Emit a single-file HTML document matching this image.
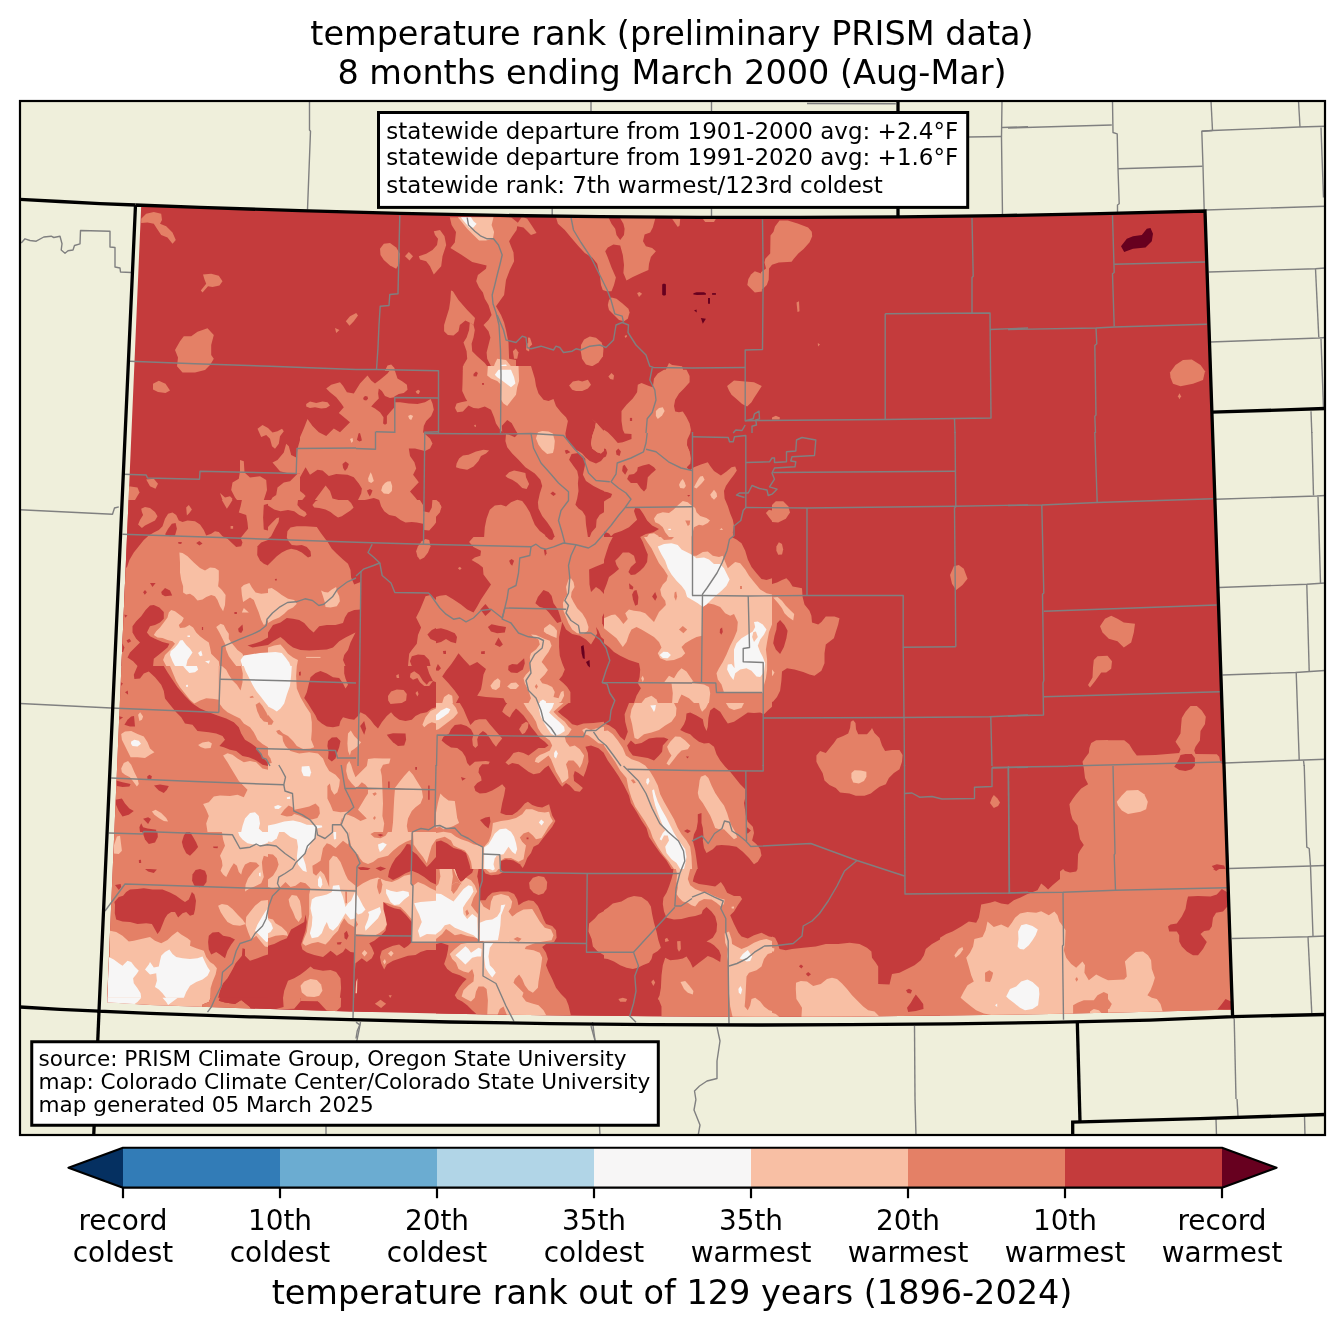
<!DOCTYPE html>
<html lang="en"><head><meta charset="utf-8"><title>temperature rank</title>
<style>html,body{margin:0;padding:0;background:#fff}svg{display:block;will-change:transform}text{font-family:"DejaVu Sans","Liberation Sans",sans-serif;fill:#000}</style></head><body>
<svg width="1344" height="1332" viewBox="0 0 1344 1332">
<rect width="1344" height="1332" fill="#fff"/>
<defs><clipPath id="ax"><rect x="20" y="101" width="1305" height="1034"/></clipPath>
<clipPath id="co"><polygon points="141.2,205.7 200,207.9 300,211.2 400,213.9 500,215.9 600,217.2 700,217.9 800,217.9 900,217.3 1000,216.1 1100,214.2 1206,211.5 1233.4,1009.5 1150,1011.8 1050,1014 950,1015.5 850,1016.4 757,1016.7 650,1016.3 550,1015.3 450,1013.7 350,1011.4 250,1008.5 150,1005 107,1002.3"/></clipPath>
</defs>
<rect x="20" y="101" width="1305" height="1034" fill="#efefdb"/>
<g clip-path="url(#ax)">
<polygon points="141.2,205.7 200,207.9 300,211.2 400,213.9 500,215.9 600,217.2 700,217.9 800,217.9 900,217.3 1000,216.1 1100,214.2 1206,211.5 1233.4,1009.5 1150,1011.8 1050,1014 950,1015.5 850,1016.4 757,1016.7 650,1016.3 550,1015.3 450,1013.7 350,1011.4 250,1008.5 150,1005 107,1002.3" fill="#c43b3c"/>
<g clip-path="url(#co)">
<g fill="#e48066">
<polygon points="141.2,218.8 146.2,213.8 153.8,212 161.2,213.8 162,220 160,223.8 166.2,226.2 172.5,232.5 175.8,240 172.5,243.8 167.5,237.5 161.2,235 157,228.8 153.8,223.8 147.5,222.5 141.2,223"/>
</g>
<g fill="#e48066">
<polygon points="203,274.5 211.2,273.8 218.8,275.8 222.5,281.2 219.5,285.5 212.5,287 208,286.2 202.5,292.5 200.8,290.5 206.2,283.8 204.5,279.5"/>
</g>
<g fill="#e48066">
<polygon points="380,248.8 383.8,243.8 390,243 396.2,247.5 400,253.8 399.2,263.8 396.2,268.8 390,265.5 383.8,260 380.5,255"/>
</g>
<g fill="#e48066">
<polygon points="405,256.2 408.8,252 413,256.2 409.5,260.5"/>
</g>
<g fill="#e48066">
<polygon points="345.8,321.2 350,316.2 356.2,313 358,315.5 353.8,321.2 349.5,325.8"/>
</g>
<g fill="#e48066">
<polygon points="335,328 339.5,330 336.2,333"/>
</g>
<g fill="#e48066">
<polygon points="175,350 180,341.2 183.8,336.2 191.2,336.2 197.5,331.8 207.5,328.2 213.8,335 211.2,345 211.2,355 213.8,358.8 210,365 205,370 195,372.5 182.5,372.5 177,366.2 178,357.5"/>
</g>
<g fill="#e48066">
<polygon points="153,383.8 158.8,380.8 165.5,383.8 170,390.5 165.5,393 158,392 153,389.5"/>
</g>
<g fill="#e48066">
<polygon points="306.2,403.8 312.5,402 320,402.5 326.2,401.5 330,404.5 326.2,408 320,408.8 312.5,407 307.5,407.5"/>
</g>
<g fill="#e48066">
<polygon points="257.5,428.8 262.5,425 268,428 272.5,432.5 277.5,431.2 282,428.8 283.8,431.2 280,436.2 278.8,443.8 275,448.8 272,446.2 270,438.8 266.2,435 261.2,437"/>
</g>
<g fill="#e48066">
<polygon points="327,388 333.8,384.5 340.5,382 346.2,390 347.5,394.5 353.8,394.5 360,382.5 367.5,375 372.5,380.5 376.2,378.8 380,372.5 383.8,373 387.5,365.5 391.2,364.5 394.5,368 395,375 398.8,380 406.2,383.8 407.5,390 403.8,393.8 396.2,398 407.5,401.2 418.8,403 427.5,400 436,401.2 436,533 422.5,533 420,522.5 415,512.5 400,518.8 387.5,516.2 381.2,507.5 377.5,496.2 365,498.8 357.5,500 360,490 355,482.5 346.2,475 335,473.8 325,477.5 317.5,472.5 307.5,467.5 303.8,473.8 297.5,473.8 290,473.8 280,471.2 272.5,462.5 277.5,460 283.8,452.5 286.2,443.8 288.8,446.2 291.2,455 296.2,457.5 297.5,448.8 300,440 303.8,432.5 306.2,420 312.5,426.2 320,431.2 327.5,435 333.8,430 341.2,431.2 348.8,422.5 343.8,417.5 340,413.8 343.8,405 340,400 335,396.2 331.2,392.5"/>
</g>
<g fill="#c43b3c">
<polygon points="380,387 383.8,392.5 390,397.5 394.5,398.8 394.5,415 388.8,417 387,423.8 383.8,423.8 382.5,416.2 377.5,411.2 371.2,407 374.5,400 377,393.8"/>
</g>
<g fill="#e48066">
<polygon points="146.2,479.5 153.8,478.8 158,483.8 155.5,488.8 150,486.2"/>
</g>
<g fill="#e48066">
<polygon points="128.8,486.2 137.5,487.5 139.5,492.5 135,500 128.8,500"/>
</g>
<g fill="#e48066">
<polygon points="220,493 225,497.5 230,496.2 232.5,498.8 227.5,508.8 223.8,503.8"/>
</g>
<g fill="#e48066">
<polygon points="240,460 243.8,461.2 244.5,472.5 250,477.5 260,476.2 266.2,480 267,490 263.8,500 265,512.5 262.5,522.5 260,533 247.5,533 246.2,522.5 242.5,512.5 240,503.8 235,497.5 231.2,490 232.5,482.5 238.8,478.8 240,471.2"/>
</g>
<g fill="#e48066">
<polygon points="275,520 280,517 275,533 270,533"/>
</g>
<g fill="#e48066">
<polygon points="290,525 307.5,525 312.5,533 285,533"/>
</g>
<g fill="#e48066">
<polygon points="297.5,473.8 303.8,473.8 306.2,480 302.5,487.5 305,495 300,500 303.8,508.8 300,517.5 292.5,511.2 285,510 277.5,510 268.8,503.8 272.5,497.5 276.2,495 277.5,487.5 283.8,482.5 290,481.2 293.8,477.5"/>
</g>
<g fill="#e48066">
<polygon points="325,486.2 331.2,497.5 340,500 352.5,503.8 346.2,511.2 335,517.5 325,512.5 316.2,508.8 312.5,503.8 317.5,497.5"/>
</g>
<g fill="#c43b3c">
<polygon points="300,371 436,371 436,537 300,537"/>
</g>
<g fill="#e48066">
<polygon points="300,437.2 303.8,428.5 307.5,419.1 312.5,426 318.8,432.2 326.2,436 333.8,428.5 340,432.2 350,422.2 342.5,416 338.8,412.9 343.8,407.2 341.2,403.5 336.2,397.2 330,392.2 326.2,388.5 331.2,384.8 340,382.2 343.1,386 346.9,392.2 353.8,393.5 360,383.5 367.5,375.4 371.2,380.4 375,383.5 380,379.8 387.5,373.5 389.4,371 395,371 397.5,378.5 402.5,381.6 406.9,384.8 407.5,389.8 403.8,392.9 398.8,394.1 394.4,396.6 395,402.2 400,402.2 408.8,403.5 417.5,404.1 425,402.2 430.6,399.1 432.5,403.5 433.8,409.8 431.2,416 426.2,421 423.8,426 423.1,432.2 430,438.5 432.5,443.5 430,448.5 425,451 420,449.8 415,448.5 408.8,448.5 410,456 414.4,462.2 416.2,468.5 413.1,474.8 418.8,482.2 410,491.6 415,497.2 420,503.5 423.8,508.5 425,512.2 430,511 431.9,501 436.2,500.4 441.2,506 440,512.2 435.6,517.2 435.6,524.8 431.2,529.8 425,531 423.1,527.2 417.5,523.5 408.8,522.2 400,518.5 392.5,517.2 385,513.5 381.2,508.5 378.8,499.8 373.8,497.9 366.2,499.8 357.5,501 361.2,493.5 361.9,488.5 358.8,483.5 353.8,477.2 347.5,474.8 336.2,474.1 328.8,476 322.5,470.4 317.5,469.8 310,474.8 305.6,467.2 300,477.2"/>
</g>
<g fill="#c43b3c">
<polygon points="363.1,397.9 365,396 367.5,396.6 368.1,398.8 366.2,400.6 363.8,400"/>
</g>
<g fill="#c43b3c">
<polygon points="378.8,388.5 381.9,391 385,396 390,397.9 394.4,397.2 394.4,407.2 390,412.2 386.9,416 386.9,423.5 385,424.8 383.1,423.5 383.5,417.2 380,412.2 375,408.5 371.2,406.6 375,402.2 378.8,398.5 378.1,393.5"/>
</g>
<g fill="#c43b3c">
<polygon points="358.5,433.5 360,432.9 361.2,437.2 361.9,440.4 359.4,441.6 356.9,439.8 357.8,436.6"/>
</g>
<g fill="#c43b3c">
<polygon points="342.5,464.1 345.6,461.6 348.8,464.1 347.5,467.9 345,471 343.1,467.9"/>
</g>
<g fill="#c43b3c">
<polygon points="366.9,490.4 370,489.1 372.5,490.4 371.2,494.1 369.8,496.6 368.1,493.5"/>
</g>
<g fill="#e48066">
<polygon points="306.2,404.1 310,401.6 316.2,402.9 322.5,401.6 327.5,402.2 330,405.4 326.2,407.9 321.2,408.5 315,407.2 310,407.9 306.2,406.6"/>
</g>
<g fill="#e48066">
<polygon points="415.6,391.6 418.1,389.8 420,391 418.8,394.1 416.9,393.5"/>
</g>
<g fill="#e48066">
<polygon points="325.6,485.4 330,491 332.5,498.5 342.5,501 350,504.8 353.8,507.2 348.8,511 343.8,516.6 337.5,517.9 331.2,513.5 323.8,511 315,508.5 311.9,504.8 315,499.8 318.8,494.8 322.5,489.8"/>
</g>
<g fill="#e48066">
<polygon points="300,491 303.8,494.1 305.6,496 302.5,499.8 300,501"/>
</g>
<g fill="#e48066">
<polygon points="300,508.5 305,512.2 306.2,514.8 302.5,517.2 300,517.9"/>
</g>
<g fill="#e48066">
<polygon points="300,528.5 306.2,526 313.8,525.4 317.5,529.1 320.6,533.5 322.5,537 300,537"/>
</g>
<g fill="#f8bfa4">
<polygon points="408.1,416 410.6,414.8 413.1,416 411.2,420 409.4,419.1"/>
</g>
<g fill="#f8bfa4">
<polygon points="350,439.1 352.5,437.9 353.1,441 351.5,442.9"/>
</g>
<g fill="#f8bfa4">
<polygon points="370.6,472.2 371.9,474.8 373.8,481 371.2,482.9 368.5,481.6 368.1,478.5"/>
</g>
<g fill="#f8bfa4">
<polygon points="387.5,481.6 390.6,481.2 392.2,486 391.9,491 388.8,494.1 383.8,493.5 381.2,490.4 382.5,486 385,482.9"/>
</g>
<g fill="#e48066">
<polygon points="433.8,231.2 440,230 444.5,236.2 446.2,245 442.5,256.2 441.2,266.2 433.8,274.5 430,266.2 426.2,261.2 420,259.5 418.8,256.2 426.2,253.8 432.5,250 437,245 438,238.8 435,235"/>
</g>
<g fill="#e48066">
<polygon points="451,290.6 452.9,291.2 458.5,300 467.2,310 475,318.1 473.5,325 470.4,323.1 465.4,320.6 459.8,325 458.5,331.2 453.5,335.6 447.9,335 444.1,331.2 444.1,325 446,318.8 449.1,308.8 450.4,300"/>
</g>
<g fill="#e48066">
<polygon points="469.8,322.5 473.5,325 474.8,330 473.5,337.5 471.6,343.8 472.2,351.2 477.2,356.2 484.8,363.1 487.2,366.2 486,371 462.9,371 463.5,365 467.2,358.8 466.6,351.2 463.5,342.5 466.6,337.5 469.1,330"/>
</g>
<g fill="#e48066">
<polygon points="449.8,217.2 451.6,225 456,231.9 454.8,242.5 450.4,248.1 461,254.4 472.2,261.9 486.6,265.6 486,268.8 477.9,275 476.2,281.2 479.1,287.5 482.9,292.5 484.8,298.8 488.5,305 491.6,315 488.5,320 483.5,325 488.5,331.2 490.4,337.5 488.5,345 486.6,352.5 487.2,358.8 491,366.2 494.8,371 516,371 516,360 509.1,358.8 508.5,342.5 506,330 504.1,322.5 501,315 496,306.2 504.1,295 506,280 509.8,270 514.1,261.2 513.5,252.5 511,246.2 509.1,241.2 512.2,236.2 516.6,230 517.2,226.2 523.5,227.5 531,235 536.6,233.1 532.2,226.2 527.2,218.8 523.5,217.2"/>
</g>
<g fill="#c43b3c">
<polygon points="511,217.2 521.6,217.2 517.9,222.8"/>
</g>
<g fill="#e48066">
<polygon points="527.9,337.5 530,337.8 532.2,344.4 529.5,346.9 529.1,351.5 526.2,350 526.2,345 528.2,342.5"/>
</g>
<g fill="#e48066">
<polygon points="512.9,351.2 515.8,348.5 518.5,352.5 517.2,358.8 514.1,358.8"/>
</g>
<g fill="#e48066">
<polygon points="581,345 584.1,339.4 589.8,336.5 596,337.8 601.6,342.5 603.5,348.8 602.9,356.2 598.5,362.5 592.2,366.2 586,364.4 582,358.8 580.8,351.2"/>
</g>
<g fill="#f8bfa4">
<polygon points="457.9,217.2 493.5,217.2 491.6,225 494.1,231.9 492.9,238.8 486,240.6 479.1,240.6 473.5,235 467.2,228.8 462.2,222.5"/>
</g>
<g fill="#f7f6f6">
<polygon points="461,217.2 471,217.2 473.5,221.2 476.6,223.8 473.5,227.5 469.8,228.1 466,223.8 462.9,220"/>
</g>
<g fill="#f8bfa4">
<polygon points="497.2,358.8 506,360 511,366.2 513.5,371 492.2,371 494.8,363.8"/>
</g>
<g fill="#f7f6f6">
<polygon points="501,365 506,364.4 509.8,371 499.1,371"/>
</g>
<g fill="#e48066">
<polygon points="556,217.2 557.9,223.8 564.8,230 571,237.5 578.5,246.2 584.8,253.1 592.2,257.5 597.2,263.8 599.8,275 601,285 602.8,290 606.5,291.2 611.5,291.2 614,285 615.9,277.5 611.5,267.5 607.8,257.5 605.2,251.2 607.8,247.5 613.4,244.4 620.2,245.6 622.8,255 624,265 623.4,273.1 626.5,280.6 632.8,276.9 641.5,273.1 648.4,270 649,263.8 650.9,256.9 655.9,251.2 652.1,248.1 645.9,246.2 643,241.2 644.6,234.4 650.2,232.5 652.8,227.5 655.2,218.8 655.2,217.2"/>
</g>
<g fill="#c43b3c">
<polygon points="608.4,217.2 619.6,217.2 623.4,223.8 624.6,228.8 624,235 620.2,240 616.5,235 615.2,228.8 611.5,223.8"/>
</g>
<g fill="#e48066">
<polygon points="672.1,218.8 680.2,218.8 679.6,225.6 677.8,226.9"/>
</g>
<g fill="#e48066">
<polygon points="702.8,218.8 715.9,218.8 714,221.9 705.2,221.9"/>
</g>
<g fill="#e48066">
<polygon points="611.5,297.5 616.5,298.8 622.8,303.8 628.4,308.8 629.6,312.5 627.8,318.8 624,321.2 619,320 614,315 609,310 607.8,305 609,300"/>
</g>
<g fill="#e48066">
<polygon points="637.1,293.1 639.6,291.9 642.1,293.8 639,296.9"/>
</g>
<g fill="#e48066">
<polygon points="624.6,336 626.5,335 627.1,336.2 625.5,338.1"/>
</g>
<g fill="#e48066">
<polygon points="779.5,220.5 787.8,220.5 797.6,223.5 808.1,227.6 811.8,231.8 812.2,236.3 809.6,242.3 803.6,249 798.3,253.5 793.8,258.8 791.6,261.8 778.8,262.6 772,264.8 769,268.6 768.7,279.8 766.8,285.1 763,288.8 761,289.5 761,272.3 766,268.6 764.5,262.6 765.3,258.8 770.2,253.5 770.5,235.5 773.5,231.8 775,226.5"/>
</g>
<g fill="#e48066">
<polygon points="754.8,271.2 761.9,273.8 761.9,291.5 754.8,292.6 747.3,285.1 748.4,279.1 751,274.6"/>
</g>
<g fill="#e48066">
<polygon points="669,363.1 672.1,365 682.1,366.2 683.4,371 665.2,371 667.1,366.9"/>
</g>
<g fill="#67001f">
<polygon points="662.2,284.5 663.2,283.8 665,283.8 665.9,284.5 665.9,294.8 665,295.6 663.2,295.6 662.2,294.8"/>
</g>
<g fill="#67001f">
<polygon points="693.4,293.2 696.5,292.2 704,292.2 705.9,293.2 705.9,294.8 697.1,295 693.4,294.5"/>
</g>
<g fill="#67001f">
<polygon points="712.1,293.1 715.9,293.1 715.9,294.8 712.1,294.8"/>
</g>
<g fill="#67001f">
<polygon points="708,298.1 710,298.1 710,303.8 708,303.8"/>
</g>
<g fill="#67001f">
<polygon points="694,310.6 696.5,309.4 696.8,312.5"/>
</g>
<g fill="#67001f">
<polygon points="700.9,318.1 705.9,318.8 702.8,323.8"/>
</g>
<g fill="#e48066">
<polygon points="462.9,366 462.5,383.5 462.2,391 465.4,397.9 467.2,401 461,402.2 456.6,403.5 455,407.9 457.2,412.2 462.9,411.6 468.5,405.4 473.5,407.9 478.5,408.5 484.8,406.6 491,409.8 494.1,417.2 496,423.5 498.5,427.2 501,431 506,434.1 505.4,441 507.2,447.2 512.2,453.5 518.5,459.8 525.4,467.2 534.8,473.5 540.4,479.8 542.2,486 539.8,493.5 537.9,502.2 538.5,508.5 542.2,516 547.2,522.2 552.2,529.8 554.8,537 604,537 604,366"/>
</g>
<g fill="#c43b3c">
<polygon points="531,366 534.8,378.5 536,386 538.5,393.5 543.5,399.8 548.5,401 553.5,399.1 556,406 561,412.2 566,417.2 567.9,421 566.6,427.2 565.4,433.5 566,438.5 570.4,444.8 574.8,449.8 578.5,451 582.2,453.5 585.4,457.2 589.8,461 596,463.5 601,461 604,457.2 604,449.8 602.2,451 601,453.5 597.2,452.2 592.2,448.5 591,443.5 592.2,436 594.8,428.5 596,422.2 592.9,419.1 593.8,412.9 592,409.1 591,412.2 591.6,418.5 604,431 604,366"/>
</g>
<g fill="#c43b3c">
<polygon points="571.6,454.1 578.5,452.9 582.9,456 585.4,459.1 584.8,466 582.9,474.8 586,481 593.5,486 601,489.8 604,491 604,512.2 599.8,514.8 596.6,519.8 596,527.2 591.6,532.2 589.8,537 587.9,537 587.2,532.2 586,524.8 585.4,516 582.2,511 578.5,508.5 575.4,504.8 577.2,498.5 578.5,491 577.9,483.5 578.5,477.2 577.2,471 573.5,466 569.1,459.8"/>
</g>
<g fill="#e48066">
<polygon points="591.6,419.1 597.2,423.5 602.2,429.8 604,431 604,451 601,453.5 597.2,452.2 592.2,448.5 591,443.5 592.2,436 594.8,428.5 596,422.2"/>
</g>
<g fill="#c43b3c">
<polygon points="501.9,425.8 507.2,420 511.6,422.9 516,431 517.9,434.1 514.8,437.2 511,435.4 506.6,434.1 502.2,432.2"/>
</g>
<g fill="#c43b3c">
<polygon points="473.5,374.1 476,371.6 477.9,372.9 476.6,376.6 473.5,376.2"/>
</g>
<g fill="#c43b3c">
<polygon points="482,383.1 483.9,382.9 484.1,384.8 482.2,385"/>
</g>
<g fill="#c43b3c">
<polygon points="550.4,493.5 552.9,491.6 556,494.1 553.5,496"/>
</g>
<g fill="#c43b3c">
<polygon points="564.8,450.4 567.2,449.8 570.4,452.2 566,454.1"/>
</g>
<g fill="#e48066">
<polygon points="484.1,537 484.8,527.2 486.6,518.5 489.8,509.8 494.8,505.4 501,504.8 506,506.6 511,502.2 517.2,499.8 522.2,501 526,506 529.8,512.2 532.2,518.5 534.8,524.8 539.8,531 544.8,534.8 546,537"/>
</g>
<g fill="#e48066">
<polygon points="456.6,463.5 459.1,458.5 462.9,455.4 468.5,454.8 476,451.6 483.5,449.8 489.1,450.4 486,453.5 481,456 478.5,461 473.5,466.6 467.2,469.8 459.8,468.5 456,467.2"/>
</g>
<g fill="#e48066">
<polygon points="505.4,476 509.1,472.2 514.1,470.4 519.1,471.6 525.4,472.9 526,477.2 529.1,484.1 526.6,489.1 522.2,487.9 517.2,482.9 512.2,479.8 507.9,477.9"/>
</g>
<g fill="#e48066">
<polygon points="436,499.8 439.1,502.2 441.6,507.2 439.1,512.2 436,514.8"/>
</g>
<g fill="#e48066">
<polygon points="569.1,385.4 572.9,381.6 578.5,380.4 582.2,381.6 587.9,379.8 591,384.8 587.9,388.5 582.2,391 576,391 572.2,389.8"/>
</g>
<g fill="#e48066">
<polygon points="474.1,425 475.8,424.8 476,427 474.5,426.6"/>
</g>
<g fill="#f8bfa4">
<polygon points="487.9,366 518.5,366 519.1,381 517.2,387.2 516,394.8 511,401 507.2,406 503.5,403.5 501,399.8 501,384.8 497.2,381 491,378.5 487.2,375.4"/>
</g>
<g fill="#f7f6f6">
<polygon points="494.8,374.8 498.5,369.8 511,369.8 514.1,377.2 515.4,383.5 511,387.2 506,383.5 501,379.8 497.2,377.2"/>
</g>
<g fill="#f8bfa4">
<polygon points="537.9,432.2 542.2,431 548.5,431.6 552.9,433.5 554.8,441 554.1,448.5 552.9,452.9 547.2,454.1 542.2,449.8 538.5,444.8 536,438.5"/>
</g>
<g fill="#e48066">
<polygon points="604,429.8 607.8,432.2 612.8,437.2 617.8,442.9 622.8,442.2 631.5,439.1 631.5,434.1 624.6,433.5 622.8,429.8 621.5,421 621.5,411 626.5,404.8 632.8,398.5 637.1,392.2 637.8,384.8 641.5,382.9 649,386 652.8,387.2 654,378.5 657.8,373.5 664,369.8 686.5,369.8 689.6,376 689.6,382.2 684,388.5 679,393.5 675.2,399.8 674,406 675.2,411.6 679,412.2 682.8,411.6 686.5,417.2 689.6,423.5 690.9,429.8 690.2,433.5 687.8,438.5 687.1,444.8 689.6,451 690.9,458.5 690.2,464.1 687.1,467.2 690.2,469.8 694,467.2 700.2,464.8 707.8,462.2 710.2,466 714,471 720.9,475.4 726.5,471.6 731.5,467.2 735.2,466.6 736.8,470.4 734,474.8 730.2,479.8 725.9,486 724,491 724.6,498.5 727.8,506 730.2,513.5 732.8,519.8 734,526 732.8,532.2 733.4,537 604,537"/>
</g>
<g fill="#c43b3c">
<polygon points="604,448.5 605.9,449.1 607.1,452.9 605.9,456.6 604,457.5"/>
</g>
<g fill="#c43b3c">
<polygon points="615.9,451 618.4,448.5 620.9,451.6 619.6,456 616.5,454.8"/>
</g>
<g fill="#c43b3c">
<polygon points="629.9,417.9 632.1,417.9 632.1,421 629.9,421"/>
</g>
<g fill="#c43b3c">
<polygon points="622.8,466 624.6,464.8 627.8,469.8 625.2,474.8 622.1,471"/>
</g>
<g fill="#c43b3c">
<polygon points="637.8,467.2 642.8,465.4 649,464.1 654,467.2 655.9,469.8 651.5,473.5 647.8,477.2 647.1,483.5 646.5,488.5 644,491.6 640.9,488.5 637.1,482.9 630.9,482.9 627.1,479.1 629,474.8 634,474.1 637.1,471"/>
</g>
<g fill="#c43b3c">
<polygon points="604,491.6 607.8,492.2 612.1,494.1 610.9,497.2 606.5,499.8 604,501.6"/>
</g>
<g fill="#c43b3c">
<polygon points="635.2,507.9 639.6,508.5 643.4,514.1 647.1,520.4 652.1,525.4 659,529.1 653.4,532.2 645.9,534.1 640.2,537 610.2,537 614,533.5 621.5,531 629,527.2 637.1,519.8 635.2,514.8 634,511"/>
</g>
<g fill="#c43b3c">
<polygon points="604,531.6 609,533.5 611.5,537 604,537"/>
</g>
<g fill="#c43b3c">
<polygon points="688.4,437.9 691.2,438.5 691.2,451 689.6,451 687.1,444.8 687.5,439.8"/>
</g>
<g fill="#c43b3c">
<polygon points="690.2,464.1 691.2,464.1 691.2,471 689,469.8 686.8,467.5"/>
</g>
<g fill="#c43b3c">
<polygon points="687.1,495 690.2,495 688.8,496.8"/>
</g>
<g fill="#e48066">
<polygon points="608.4,376.6 611.5,372.9 614,375.4 613.4,379.8 610.2,379.1"/>
</g>
<g fill="#e48066">
<polygon points="727.1,386 734,380.4 745.2,381.6 754,382.2 761.8,386 757.8,392.2 754,397.9 751.5,402.2 747.1,406.6 742.1,404.1 736.5,399.1 731.5,394.8 729,390.4"/>
</g>
<g fill="#e48066">
<polygon points="765.9,512.9 769,509.8 772,510.4 772,521 769,517.2"/>
</g>
<g fill="#f8bfa4">
<polygon points="655.9,411 659,407.9 662.8,407.2 664.6,411 662.1,415.4 657.8,419.1 655.9,416"/>
</g>
<g fill="#f8bfa4">
<polygon points="680.9,481 682.8,479.1 684.6,482.2 685.9,486 684,488.5 680.2,487.9 679,484.8"/>
</g>
<g fill="#f8bfa4">
<polygon points="700.2,476.6 702.8,476 704.6,479.8 701.5,483.5 696.5,488.5 694,487.2 695.9,483.5 698.4,479.1"/>
</g>
<g fill="#f8bfa4">
<polygon points="710.2,494.8 714,489.8 716.5,492.9 717.1,496.6 714,499.8 711.5,497.2"/>
</g>
<g fill="#f8bfa4">
<polygon points="678.4,504.8 682.8,501 687.8,502.2 691.5,505.4 695.2,507.9 696.5,512.2 700.2,516 706.5,517.9 710,520.4 707.8,522.9 702.8,525.4 699,524.8 694,527.2 691.5,537 669,537 665.2,532.2 662.8,527.2 659,524.1 655.2,522.2 654,518.5 657.1,514.1 662.8,512.2 669,512.9 673.4,509.8 675.9,507.2"/>
</g>
<g fill="#f8bfa4">
<polygon points="719.6,529.8 721.5,527.9 723,530"/>
</g>
<g fill="#e48066">
<polygon points="685.2,520.4 690.2,520.4 689.6,524.8 687.8,526"/>
</g>
<g fill="#f7f6f6">
<polygon points="668.4,528.8 670.9,528.8 670.9,530 668.4,530"/>
</g>
<g fill="#f8bfa4">
<polygon points="647.1,537 649,534.1 654,533.2 657.8,535.4 659,537"/>
</g>
<g fill="#c43b3c">
<polygon points="100,500 268,500 268,666 100,666"/>
</g>
<g fill="#e48066">
<polygon points="126.9,567.5 129.4,560 133.8,552.5 138.8,546.2 143.8,540 148.8,535.6 153.8,532.5 158.8,530 162.5,526.2 165,518.8 168.1,513.8 172.5,512.5 176.2,515 178.8,520.6 182.5,521.9 187.5,520.6 195,521.2 200,524.4 203.8,530 206.2,535.6 211.2,533.8 215,531.2 218.8,531.9 222.5,536.2 227.5,538.8 231.9,543.1 236.2,546.9 241.2,546.2 242.5,542.5 240.6,538.1 245,532.5 248.1,528.8 247.5,522.5 246.2,515 238.8,512.5 240.6,506.2 241.9,500 268,500 268,666 118.8,666 118.8,567.5"/>
</g>
<g fill="#c43b3c">
<polygon points="171.9,523.8 175.6,523.1 176.9,528.8 175,535.6 170,536.2 165,534.4 168.1,528.8"/>
</g>
<g fill="#c43b3c">
<polygon points="263.8,505 268,503.8 268,530.6 263.8,529.4 263.1,517.5"/>
</g>
<g fill="#c43b3c">
<polygon points="257.5,546.2 261.2,542.5 268,540 268,565.6 263.8,563.8 260,560.6 257.2,555"/>
</g>
<g fill="#e48066">
<polygon points="141.2,508.8 145,506.9 150,508.1 155,511.9 157.5,516.2 155,520.6 150,523.1 145,525.6 141.9,528.1 138.1,524.4 140,520 143.1,515 141.9,511.9"/>
</g>
<g fill="#e48066">
<polygon points="186.2,507.5 188.8,505 191.9,509.4 189.4,513.1 186.9,515.6"/>
</g>
<g fill="#e48066">
<polygon points="221.9,500 232.5,500 229.4,505 226.9,508.8 224.4,504.4"/>
</g>
<g fill="#e48066">
<polygon points="230.6,525.9 233.1,525.9 233.1,528.8 230.6,528.8"/>
</g>
<g fill="#c43b3c">
<polygon points="178.1,541.9 181.9,541.9 181.2,544 178.5,543.8"/>
</g>
<g fill="#c43b3c">
<polygon points="196.2,543.1 199.4,541 202.5,543.5 199.4,545.6"/>
</g>
<g fill="#c43b3c">
<polygon points="150,583.1 155.6,583.1 152.5,586.9"/>
</g>
<g fill="#c43b3c">
<polygon points="143.1,592.2 145,590 146.9,592.2 144.8,594.8"/>
</g>
<g fill="#c43b3c">
<polygon points="161.2,591.9 165,588.1 170,590.6 172.2,595.6 165,596.2 161.9,594.4"/>
</g>
<g fill="#c43b3c">
<polygon points="150,605.6 153.8,605 159.4,607.5 163.8,611.9 163.8,618.8 160,622.5 155,625 150,626.2 146.9,632.5 150,636.2 155,638.8 162.5,641.9 169.4,643.8 167.5,647.5 160,653.8 153.8,658.8 153.1,666 137.5,666 133.1,661.2 127.5,657.5 130,652.5 135,647.5 140,642.5 136.2,638.8 132.5,632.5 132.5,626.2 136.2,621.2 141.2,616.2 145.6,610"/>
</g>
<g fill="#c43b3c">
<polygon points="124.4,614.4 127.5,615.6 125,617.8"/>
</g>
<g fill="#c43b3c">
<polygon points="126.5,640.6 129.4,638.8 131.2,641.2 128.1,643.1"/>
</g>
<g fill="#c43b3c">
<polygon points="122.5,643.8 124.4,647.5 123.1,651.9 121.2,651.9 121.2,643.8"/>
</g>
<g fill="#c43b3c">
<polygon points="234.4,611.9 236.9,611.9 236.9,614 234.4,614"/>
</g>
<g fill="#c43b3c">
<polygon points="238.1,628.8 242.5,624.4 243.1,630 241.2,633.1 238.8,631.9"/>
</g>
<g fill="#c43b3c">
<polygon points="247.5,645.6 253.8,643.8 261.2,641.2 268,637.5 268,645 260,646.2 252.5,647.5"/>
</g>
<g fill="#c43b3c">
<polygon points="201.9,626.9 203.1,626.9 203.1,630 201.9,630"/>
</g>
<g fill="#f8bfa4">
<polygon points="179.4,552.5 182.5,553.1 187.5,556.2 193.8,562.5 200,568.1 205,570.6 210,567.5 215,568.1 218.8,570.6 218.8,580 218.1,586.2 221.9,590 225.6,595 225,605 223.1,611.2 220,606.2 217.5,600 215,596.2 211.2,595 206.2,596.9 202.5,599.4 197.5,600.6 193.8,596.2 190,593.8 186.2,594.4 183.1,592.5 183.1,586.2 181.2,580 180,572.5 180,562.5"/>
</g>
<g fill="#f8bfa4">
<polygon points="241.2,587.5 243.8,585 249.4,583.1 251.9,587.5 255.6,592.5 261.2,593.8 268,593.1 268,618.8 266.2,623.8 263.8,625 261.2,620 258.8,612.5 256.2,606.2 253.8,600 250,597.5 246.2,600 243.1,601.9 241.9,595"/>
</g>
<g fill="#f8bfa4">
<polygon points="241.9,612.5 243.8,608.1 248.8,612.5"/>
</g>
<g fill="#f8bfa4">
<polygon points="171.2,610 175,611.2 180,615 183.8,618.1 181.9,621.9 178.8,625 180,628.1 185,627.5 189.4,625 193.1,627.5 196.2,632.5 200,636.2 205,640 208.8,642.5 210,647.5 211.2,653.8 215,657.5 218.8,661.2 219.4,666 166.2,666 163.1,660 165,655 170,650 175,643.8 172.5,641.2 167.5,640 162.5,638.1 157.5,637.5 153.8,635 156.2,631.2 160,627.5 163.8,622.5 167.5,617.5 168.8,612.5"/>
</g>
<g fill="#f8bfa4">
<polygon points="216.2,626.9 220.6,623.8 223.8,625 226.2,630 228.8,633.8 228.8,638.8 231.2,642.5 234.4,646.2 237.5,650 242.5,653.8 243.8,657.5 241.2,661.2 241.2,666 236.2,666 232.5,661.2 228.8,656.2 226.2,650 225,643.8 221.9,637.5 219.4,632.5"/>
</g>
<g fill="#f7f6f6">
<polygon points="180,640.6 182.5,640 186.2,645 190,648.8 192.5,652.5 190,656.2 187.5,660 186.2,666 175,666 172.5,661.2 170,655 170.6,651.2 175,647.5 178.1,643.8"/>
</g>
<g fill="#f7f6f6">
<polygon points="198.1,653.1 201.2,650.6 202.5,655.6 200,656.2"/>
</g>
<g fill="#f7f6f6">
<polygon points="205,661.2 210,660.6 208.8,663.8"/>
</g>
<g fill="#f7f6f6">
<polygon points="187.5,635.6 190,635.6 190,636.9 187.5,636.9"/>
</g>
<g fill="#f7f6f6">
<polygon points="240.6,660 243.8,655.6 250,654.4 260,653.1 268,652.5 268,666 241.9,666"/>
</g>
<g fill="#c43b3c">
<polygon points="268,500 436,500 436,666 268,666"/>
</g>
<g fill="#e48066">
<polygon points="268,500 298,500 297.4,505 300.5,508.8 305.5,511.9 306.8,514.4 304.2,516.9 299.2,515 294.2,511.2 288,510 280.5,511.2 274.2,509.4 268,505.6"/>
</g>
<g fill="#e48066">
<polygon points="312.4,505 315.5,501.2 318,500 348,500 351.1,503.1 353.6,507.5 350.5,510.6 345.5,513.8 341.8,516.2 338,517.5 334.2,515 330.5,511.9 325.5,509.4 319.2,508.1 314.2,507.5"/>
</g>
<g fill="#e48066">
<polygon points="268,526.9 271.8,523.1 276.8,518.1 279.2,517.5 278.6,521.9 274.9,528.8 271.1,536.2 268,538.8"/>
</g>
<g fill="#e48066">
<polygon points="379.2,500 419.9,500 423,505 423,511.2 429.2,512.5 431.8,507.5 432.4,500 436,500 436,522.5 434.2,525 429.2,530.6 424.2,530 423,523.8 416.8,522.5 411.8,521.9 405.5,522.5 400.5,520 395.5,516.2 389.2,515 384.2,511.2 381.1,506.2"/>
</g>
<g fill="#e48066">
<polygon points="418,546.2 421.8,541.2 425.5,539 429.2,540 430.5,546.2 428,552.5 424.2,557.5 419.9,559.8 417.4,556.2 416.1,551.2"/>
</g>
<g fill="#e48066">
<polygon points="287.4,531.2 290.5,527.5 296.8,526.2 305.5,526.2 316.8,526.9 320.5,532.5 324.2,537.5 328,542.5 331.8,548.8 336.8,553.8 343,559.4 348,563.8 350.5,570 351.1,577.5 354.2,584.4 360.5,581.9 360.5,609.4 354.2,610 348,612.5 344.9,617.5 343,623.1 335.5,625 326.8,625 319.2,626.2 313.6,632.5 309.2,628.8 304.2,623.1 299.2,620 293,618.8 286.8,618.1 280.5,622.5 273,625 268,632.5 268,565 271.8,561.2 276.8,556.2 281.8,552.5 286.8,550 291.1,548.8 296.8,550 301.8,552.5 308,557.5 311.1,556.2 310.5,551.2 306.8,546.9 301.8,545 296.8,545.6 291.8,545 288.6,541.2 286.8,537.5"/>
</g>
<g fill="#c43b3c">
<polygon points="274.9,579 276.8,578.8 276.8,580.6 275.1,580.6"/>
</g>
<g fill="#e48066">
<polygon points="268,645 273,641.2 280.5,636.9 284.2,640 288,643.8 293,647.5 300.5,650 309.2,650.6 318,650 326.8,649.4 333,647.5 339.2,641.2 345.5,637.5 355.5,632.5 353,637.5 350.5,642.5 348,650 344.2,655 343,660 345.5,666 268,666"/>
</g>
<g fill="#e48066">
<polygon points="425.5,596.2 430.5,595 436,600 436,666 430.5,666 429.2,660 424.2,655 418,654.4 411.8,656.2 409.9,661.2 411.8,666 408,666 409.2,653.8 411.8,650 416.8,643.8 418,635 421.1,627.5 419.2,623.8 416.1,617.5 419.9,610 423,602.5"/>
</g>
<g fill="#c43b3c">
<polygon points="427.4,634.4 431.8,630 436,628.1 436,641.2 430.5,639"/>
</g>
<g fill="#f8bfa4">
<polygon points="268,588.8 271.8,588.1 276.8,591.2 281.8,595 288,598.8 294.2,600 296.8,603.8 293,607.5 288,610 284.2,613.8 279.2,617.5 273,620 268,623.1"/>
</g>
<g fill="#f8bfa4">
<polygon points="321.1,590.6 324.2,591.9 328,592.5 331.8,589.4 336.1,586.9 337.4,592.5 339.2,596.2 339.9,601.2 336.8,606.2 330.5,607.5 325.5,606.9 324.9,602.5 323,596.2"/>
</g>
<g fill="#f8bfa4">
<polygon points="268,647.5 274.2,645.6 280.5,644.4 284.2,648.8 288,653.8 293,657.5 298,660 296.8,666 268,666"/>
</g>
<g fill="#f7f6f6">
<polygon points="268,652.5 275.5,651.9 281.8,653.1 285.5,657.5 289.2,662.5 290.5,666 268,666"/>
</g>
<g fill="#f8bfa4">
<polygon points="306.1,656.9 320.5,656.9 320.5,657.9 306.1,657.9"/>
</g>
<g fill="#e48066">
<polygon points="436,537 604,537 604,703 436,703"/>
</g>
<g fill="#c43b3c">
<polygon points="436,537 473.5,537 469.1,542 473.5,547 481,550.8 480.4,555.8 474.8,557.6 471.6,560.1 478.5,563.9 482.9,567.6 483.5,574.5 487.2,579.5 491,584.5 486,592 481,599.5 477.2,606.4 473.5,612.6 467.2,609.5 461,604.5 453.5,599.5 446,595.1 439.8,595.8 436,597"/>
</g>
<g fill="#c43b3c">
<polygon points="480.4,609.5 485.4,603.9 491,610.8 485.4,616"/>
</g>
<g fill="#c43b3c">
<polygon points="487.9,627 491.6,624.2 498.5,625.8 506,627 504.8,632.6 497.2,633.2 491,631.4"/>
</g>
<g fill="#c43b3c">
<polygon points="436,628.9 441,628.2 447.2,630.1 454.8,633.2 457,637 456,643.2 451,642 446,638.9 441,642 436,643.2"/>
</g>
<g fill="#c43b3c">
<polygon points="494.8,644.5 498.5,637.6 502.9,644.5 499.8,647"/>
</g>
<g fill="#c43b3c">
<polygon points="442.9,651 446,650.8 446,653.9 443.5,653.9"/>
</g>
<g fill="#c43b3c">
<polygon points="481,651.4 484.8,651 484.8,653.9 481.2,653.9"/>
</g>
<g fill="#c43b3c">
<polygon points="458.5,653.2 463.5,658.9 469.8,665.8 477.2,662 486,668.9 483.5,674.5 482.2,683.2 481,689.5 477.2,695.8 486,697 503.5,698.2 506,703 456,703 459.1,697 454.8,690.8 448.5,683.2 442.2,676.4 446,670.8 451,664.5 454.8,658.9"/>
</g>
<g fill="#c43b3c">
<polygon points="436,668.2 437.9,663.9 441,668.2 438.5,670.8 436,670.5"/>
</g>
<g fill="#c43b3c">
<polygon points="508.5,665.8 512.2,663.9 517.2,664.5 522.2,660.1 524.1,658.2 524.8,663.2 522.9,669.5 517.2,673 511,672.6 508.2,670.1"/>
</g>
<g fill="#c43b3c">
<polygon points="509.1,560.8 511.6,558.9 514.1,560.8 512.2,565.8 510.4,563.9"/>
</g>
<g fill="#c43b3c">
<polygon points="543.8,549.5 546,548.9 546.6,553.2 545,556"/>
</g>
<g fill="#c43b3c">
<polygon points="546.6,537 554.1,537 552.2,540.1 549.1,539.5"/>
</g>
<g fill="#c43b3c">
<polygon points="543.5,590.1 548.5,592 551.6,595.8 553.5,603.2 557.9,609.5 560.4,617 561.6,621.4 557.2,623 553.5,618.2 548.5,612 544.8,608.2 539.8,607 535.4,603.2 537.9,597"/>
</g>
<g fill="#c43b3c">
<polygon points="562.2,622 566,629.5 572.2,633.9 579.8,635.8 586,639.5 591,644.5 594.8,638.2 597.2,633.2 596,627 598.5,630.8 601,637 604,639.5 604,703 570.4,703 570.4,692 567.2,687 563.5,683.2 559.1,679.5 562.2,675.8 564.8,669.5 562.2,663.2 559.8,655.8 559.1,647 559.1,637 561,628.2"/>
</g>
<g fill="#c43b3c">
<polygon points="589.1,569.5 596,566.4 604,563.2 604,593.9 599.8,589.5 596,587 591,592 589.5,584.5"/>
</g>
<g fill="#c43b3c">
<polygon points="602.2,617 604,613.2 604,627 602.2,623.2"/>
</g>
<g fill="#67001f">
<polygon points="581,646.4 583.5,645.1 584.5,652 584.8,658.9 582.9,658.2 581.6,653.2"/>
</g>
<g fill="#67001f">
<polygon points="586,662 589.5,660.1 590,667.6 587.9,665.8"/>
</g>
<g fill="#e48066">
<polygon points="457.9,568.2 459.8,566.8 461.6,568.5 459.8,570.1"/>
</g>
<g fill="#f8bfa4">
<polygon points="568.5,579.5 571,578.2 573.5,582 574.5,587 571.6,592 571,597 573.5,602 577.2,608.2 582.2,613.2 586,619.5 588.5,627 587.9,630.8 583.5,633.9 577.2,633.2 572.2,629.5 568.5,623.2 566,617 563.5,610.8 562.9,603.2 564.8,598.2 567.2,594.5 566,587"/>
</g>
<g fill="#f8bfa4">
<polygon points="544.1,628.2 549.8,623.9 554.1,627 557,630.8 556.6,638 551,635.8 546,633.2 543.8,631.4"/>
</g>
<g fill="#f8bfa4">
<polygon points="531,634.5 536,635.1 544.8,638.9 549.8,640.8 551.6,645.8 548.5,652 544.8,657 541.6,662 544.8,665.8 547.9,670.1 544.8,674.5 539.8,679.5 542.2,683.2 547.2,684.5 552.2,687 554.8,692 553.5,697 558.5,698.2 561,692 563.5,690.8 564.1,695.8 561,702 558.5,703 528.5,703 531,698.2 528.5,690.8 524.8,683.2 523.5,678.2 526,674.5 529.8,670.8 530.4,663.2 529.8,657 531,653.2 536,649.5 539.8,644.5 538.5,639.5 533.5,637"/>
</g>
<g fill="#e48066">
<polygon points="534.8,686.4 536.4,683.9 537.9,686.4 536.4,688.9"/>
</g>
<g fill="#f8bfa4">
<polygon points="490.4,685.8 494.1,680.8 497.9,678.2 500.4,680.8 499.8,687 496,690.1 492.2,688.9"/>
</g>
<g fill="#f8bfa4">
<polygon points="507.2,686.4 511,683 516,682.6 519.1,685.8 516,688.9 510.4,688.9"/>
</g>
<g fill="#f8bfa4">
<polygon points="442.2,703 444.1,697 448.5,693.9 452.2,695.8 452.9,703"/>
</g>
<g fill="#f7f6f6">
<polygon points="539.8,701.4 542.9,699.5 546,701.4 546,703 539.8,703"/>
</g>
<g fill="#e48066">
<polygon points="604,537 772,537 772,703 604,703"/>
</g>
<g fill="#c43b3c">
<polygon points="612.8,537 609,544.5 606.5,552 604,560.1 604,590.8 606.5,584.5 609,577 614,573.2 619,568.9 616.5,565.1 615.2,560.8 619,557 622.8,552.6 629,552.6 634,555.8 635.9,562.6 630.9,567 628.4,572 630.9,575.1 635.2,574.5 640.2,570.8 644,567 647.1,562 647.8,554.5 645.2,548.2 642.8,542 640.2,537"/>
</g>
<g fill="#c43b3c">
<polygon points="731.5,537 772,537 772,578.2 766.5,580.1 761.5,578.9 756.5,573.2 751.5,567 747.8,559.5 745.2,550.8 741.5,543.2 736.5,539.5"/>
</g>
<g fill="#c43b3c">
<polygon points="604,643.2 609,647 614,652 620.2,655.8 629,660.1 639,663.2 640.2,669.5 639.6,677 637.8,683.2 640.9,688.2 636.5,695.8 634,703 604,703"/>
</g>
<g fill="#c43b3c">
<polygon points="629,583.2 633.4,587 632.8,589.5 629.6,588.9"/>
</g>
<g fill="#c43b3c">
<polygon points="634,590.8 636.5,590.1 638.4,597 637.8,604.5 635.2,605.8 633,599.5 632.1,594.5"/>
</g>
<g fill="#c43b3c">
<polygon points="652.1,596.4 655.2,592 657.1,597 655.2,600.8"/>
</g>
<g fill="#f8bfa4">
<polygon points="644,537 660.9,537 664,540.1 671.5,539.5 674,537 691.5,537 691.5,555.8 696.5,555.8 702.8,552 707.8,551.4 712.8,555.8 719,557 722.8,555.8 725.2,562 727.8,568.2 731.5,565.1 735.2,562 740.2,563.2 745.2,569.5 749,575.8 754,582 760.2,589.5 766.5,593.2 772,594.5 772,624.5 769,632 767.1,642 765.9,649.5 767.1,659.5 767.1,669.5 765.9,678.2 763.4,687 763.4,692.6 724,692.6 721.5,684.5 717.8,679.5 716.5,673.2 719,668.2 722.8,662 726.5,654.5 730.2,645.8 734,638.2 737.1,630.8 737.8,622 734,613.9 730.2,615.8 725.2,613.2 720.2,607 714,604.5 707.8,603.2 702.1,607 702.1,635.8 696.5,637 691.5,639.5 685.2,643.2 681.5,647 685.2,653.2 681.5,657 674,660.1 666.5,660.8 660.2,658.2 657.8,653.2 661.5,647.6 659,642 654,637 647.8,633.2 641.5,629.5 636.5,627 631.5,629.5 629,634.5 626.5,642 622.8,647 616.5,638.2 610.2,633.2 604,628.2 604,618.2 611.5,615.1 615.2,614.5 619,618.2 623.4,623.9 627.8,618.9 625.2,613.2 629,609.5 634,610.8 640.2,611.4 645.2,613.2 650.2,618.2 654,622 656.5,617 659,612 662.8,608.2 665.9,605.1 665.2,600.8 661.5,595.8 660.2,589.5 662.8,584.5 666.5,580.8 667.8,575.8 664,569.5 659,563.2 655.2,555.8 651.5,548.2 647.1,542"/>
</g>
<g fill="#c43b3c">
<polygon points="720,628.9 722.1,627.6 722.8,632 721.2,634.8 719.8,632.6"/>
</g>
<g fill="#e48066">
<polygon points="740,586 742,586 742,588.9 740,588.9"/>
</g>
<g fill="#e48066">
<polygon points="679,629.5 682.8,626 687.1,629.5 683.4,633.2"/>
</g>
<g fill="#e48066">
<polygon points="674.6,592.6 676.2,591.4 677.1,596.4 675.9,600.8 674.2,597"/>
</g>
<g fill="#f8bfa4">
<polygon points="664,682.6 669,675.8 674,678.2 677.8,672 681.5,668.2 686.5,671.4 690.2,677 694,682.6"/>
</g>
<g fill="#f8bfa4">
<polygon points="671.5,683.2 694,683.2 704,684.5 709,687 710.2,693.2 709,703 694,703 689,698.2 681.5,694.5 679,699.5 677.8,703 672.1,703 672.8,693.2"/>
</g>
<g fill="#f8bfa4">
<polygon points="641.5,703 645.2,698.2 651.5,695.8 656.5,699.5 657.8,703"/>
</g>
<g fill="#f8bfa4">
<polygon points="641.2,678.2 642.8,675.8 644,678.9 642.8,682"/>
</g>
<g fill="#f7f6f6">
<polygon points="657.8,546.4 664,543.9 671.5,543.2 677.8,545.1 681.5,549.5 686.5,552 691.5,554.5 696.5,558.2 704,557.6 709,559.5 714,563.9 720.2,563.9 724,568.2 727.1,574.5 729.6,579.5 726.5,585.8 721.5,590.8 716.5,595.1 711.5,599.5 706.5,604.5 702.8,607 697.8,603.2 691.5,599.5 687.1,597 685.2,590.8 681.5,585.8 676.5,580.8 671.5,574.5 667.8,568.2 665.2,560.8 661.5,554.5 659,549.5"/>
</g>
<g fill="#f7f6f6">
<polygon points="659.6,655.1 663.4,651.8 667.8,652 670.9,655.1 667.8,658.2 662.8,658"/>
</g>
<g fill="#f7f6f6">
<polygon points="754,622 757.8,621.4 762.8,624.5 766.5,629.5 764,634.5 760.2,639.5 757.8,645.8 760.2,652 762.8,657 765.2,663.2 764,672 760.2,677 756.5,676.4 751.5,670.8 746.5,668.2 740.2,669.5 735.2,673.2 733.4,680.1 730.2,675.8 727.1,669.5 727.8,664.5 731.5,663.9 734.6,668.2 734,659.5 734,649.5 736.5,643.2 741.5,638.2 747.8,634.5 752.8,631.4 755.2,627"/>
</g>
<g fill="#f8bfa4">
<polygon points="753.4,632 755.9,631.4 757.8,637 754,642 752.1,637"/>
</g>
<g fill="#c43b3c">
<polygon points="772,537 860,537 860,703 772,703"/>
</g>
<g fill="#e48066">
<polygon points="776.4,546.4 778.9,542.2 782,543.9 783.2,549.5 782,554.5 778.2,554.8 776.4,550.8"/>
</g>
<g fill="#e48066">
<polygon points="772,583.9 777,582.6 782,580.1 786.4,578.2 789.5,581.4 792.6,586.4 798.2,587.6 802,588.2 802.6,597 804.5,604.5 809.5,610.8 811.4,615.8 812,622.6 818.2,624.5 821.4,622 825.8,616.4 834.5,616.4 839.5,618.2 838.2,624.5 835.8,632 833.9,638.2 825.8,644.5 824.5,653.2 824.5,663.2 821.4,670.8 814.5,675.8 809.5,674.5 803.2,672 794.5,669.5 787,668.2 782,671.4 781.4,680.8 780.1,690.8 777,697 773.2,701.4 772,702"/>
</g>
<g fill="#c43b3c">
<polygon points="777,623.2 780.1,620.1 784.5,625.1 787.6,630.8 786.4,638.2 783.9,647 780.1,653.9 775.8,649.5 773.2,643.2 774.5,635.8 776.4,629.5"/>
</g>
<g fill="#f8bfa4">
<polygon points="773.2,597.6 777.6,597 782,600.8 785.8,605.8 790.8,610.8 794.2,613.9 793.2,620.5 788.2,617 784.5,613.2 782,608.2 778.2,603.2"/>
</g>
<g fill="#f8bfa4">
<polygon points="772,669.5 774.5,672.6 772.6,675.8 772,675.8"/>
</g>
<g fill="#e48066">
<polygon points="100,666 268,666 268,832 100,832"/>
</g>
<g fill="#c43b3c">
<polygon points="137.5,666 163.8,666 167.5,672.2 172.5,679.8 177.5,687.2 185,696 192.5,703.5 200,708.5 208.8,712.2 217.5,715.4 226.2,718.5 233.8,722.2 238.8,727.2 241.2,733.5 245,739.8 251.2,743.5 256.2,747.2 260,753.5 263.8,758.5 267.5,762.2 268,766 262.5,764.8 256.2,760.4 248.8,757.2 242.5,756 236.2,751 230,749.8 223.8,747.2 219.4,746 225,739.8 222.5,736 216.2,733.5 208.8,732.2 197.5,731 192.5,724.8 185,723.5 181.2,717.2 176.2,712.2 170,704.8 165,698.5 163.8,691 161.2,684.8 155,677.2 148.8,671.6 143.8,673.5 140,678.5 134.4,679.1 133.8,674.8"/>
</g>
<g fill="#c43b3c">
<polygon points="125,692.2 127.8,690.6 128.1,694.8"/>
</g>
<g fill="#c43b3c">
<polygon points="121,682.2 122.9,683.5 121.2,686"/>
</g>
<g fill="#c43b3c">
<polygon points="119,716.2 123.1,717.2 119.4,720"/>
</g>
<g fill="#c43b3c">
<polygon points="124.4,724.8 127.5,719.8 131.2,716.6 134,716 135,726.6 130,726.6"/>
</g>
<g fill="#c43b3c">
<polygon points="147.2,776.6 149.4,774.8 151.9,776.2 151.2,779.1 147.5,778.9"/>
</g>
<g fill="#c43b3c">
<polygon points="116.2,780.4 122.5,782.2 130.6,784.1 129.4,786.6 122.5,787 116.9,786"/>
</g>
<g fill="#c43b3c">
<polygon points="154,785.4 160,784.5 168.8,786 166.9,789.8 163.8,792.9 158.8,790.4"/>
</g>
<g fill="#c43b3c">
<polygon points="115.6,799.8 121.9,798.5 125,803.5 129.4,808.5 133.8,811 128.8,814.8 122.5,816.6 118.8,811 116,804.8"/>
</g>
<g fill="#c43b3c">
<polygon points="143.1,818.8 148.1,817.2 151,819.1 148.1,824.1"/>
</g>
<g fill="#c43b3c">
<polygon points="141.2,823.2 143.1,827.2 147.5,828.5 156.2,829.8 156.2,832 140,832 139.4,827.2"/>
</g>
<g fill="#f8bfa4">
<polygon points="170,666 218.8,666 218.8,699.8 212.5,698.8 206.2,698.2 200,700.4 194.4,703.5 190,699.8 185,693.5 180,687.2 176.2,681 173.1,673.5"/>
</g>
<g fill="#f8bfa4">
<polygon points="219.4,666 268,666 268,747.2 262.5,744.1 257.5,739.8 253.8,732.2 250,727.2 243.8,723.5 240,718.5 233.8,715.4 227.5,712.2 223.1,708.5 219.4,703.5"/>
</g>
<g fill="#e48066">
<polygon points="221.9,666 241.2,666 242.8,673.5 242.5,682.2 240.6,690.4 236.9,684.8 232.5,680.4 228.8,674.8 226.2,669.8"/>
</g>
<g fill="#e48066">
<polygon points="249.4,697 252.5,695.8 254,697.5 250.6,698"/>
</g>
<g fill="#e48066">
<polygon points="255.6,704.8 259.4,702.2 262.5,706 266.2,712.2 268,716 268,722.2 263.8,721.6 260,717.2 257.2,711"/>
</g>
<g fill="#f7f6f6">
<polygon points="243.8,666 268,666 268,706 265,702.2 261.2,697.2 256.2,691 252.5,684.8 248.8,677.2 245.6,671"/>
</g>
<g fill="#f7f6f6">
<polygon points="183.1,666 196.9,666 198.1,669.8 195,672.2 189.4,672.9 186.2,669.8"/>
</g>
<g fill="#f7f6f6">
<polygon points="186,685 187.9,684.8 188.1,686.8 186.2,687"/>
</g>
<g fill="#f8bfa4">
<polygon points="121.2,734.1 125,731.6 131.2,731 137.5,734.1 143.8,736.6 147.5,742.2 150,748.5 154.4,752.2 150,754.8 145,757.9 137.5,757.2 130.6,757.2 127.5,751 124.4,744.8 121.9,739.8"/>
</g>
<g fill="#f7f6f6">
<polygon points="131.2,741.6 134.4,739.8 138.8,740.8 141,743.8 137.5,746.6 132.5,746 131,743.8"/>
</g>
<g fill="#f8bfa4">
<polygon points="138.1,714.8 140.2,712.2 143.1,716.6 141.9,719.8 139.4,721"/>
</g>
<g fill="#f8bfa4">
<polygon points="198.1,745 202.5,742.5 208.8,741.6 211.9,743.5 210.6,747.9 205,748.5 200.6,747"/>
</g>
<g fill="#f8bfa4">
<polygon points="121.2,768.5 123.8,762.9 128.1,761 131.2,764.8 134.4,772.2 137.5,778.5 138.8,784.1 136.9,786.6 133.8,782.2 130,777.2 125,774.8 121.9,772.2"/>
</g>
<g fill="#f8bfa4">
<polygon points="223.1,755.4 227.5,753.2 232.5,754.8 237.5,758.5 243.8,762.2 250,761 256.2,762.2 262.5,768.5 268,769.8 268,832 207.5,832 206.2,823.5 208.8,816 206.2,809.8 203.1,804.1 208.8,802.2 213.8,796.6 220,795.4 230,796 237.5,794.8 243.8,797.2 247.5,789.8 242.5,784.8 238.8,781 235,774.8 231.2,768.5 227.5,762.2 225,758.5"/>
</g>
<g fill="#f7f6f6">
<polygon points="241.2,832 242.5,826 245,818.5 250,812.9 255,812.2 258.8,816 260,823.5 258.8,828.5 262.5,832"/>
</g>
<g fill="#f8bfa4">
<polygon points="151.9,811.6 155.6,809.8 161.2,812.9 166.2,817.9 168.1,821.6 163.8,821 158.8,817.9 154.4,814.8"/>
</g>
<g fill="#e48066">
<polygon points="268,666 436,666 436,832 268,832"/>
</g>
<g fill="#c43b3c">
<polygon points="344.2,666 426.8,666 429.2,673.5 433,681 436,682.2 436,707.2 431.8,708.5 426.8,712.2 420.5,713.5 415.5,716 411.8,719.8 405.5,721 399.2,719.8 394.2,716 391.1,712.2 386.8,716 381.8,722.2 378,728.5 374.2,724.8 370.5,719.8 365.5,714.8 360.5,712.2 358,716 354.2,719.8 349.2,719.1 343,717.2 340.5,721 339.2,726 333,727.2 326.8,726.6 321.8,723.5 317.4,719.8 315.5,715.4 311.8,709.8 308,703.5 304.2,697.9 306.8,692.2 308.6,684.8 310.5,677.2 315.5,672.9 320.5,671 326.8,673.5 333,677.2 339.2,677.9 343,683.5 345.5,688.5 348,684.8 345.5,678.5 344.2,673.5"/>
</g>
<g fill="#e48066">
<polygon points="388,696 391.1,691.6 396.8,689.5 403.6,690 406.8,694.1 406.1,700.4 401.8,702.9 395.5,703.5 390.5,704.1 388.2,700.4"/>
</g>
<g fill="#e48066">
<polygon points="410.5,673.5 414.2,671.2 419.2,674.8 423,681 426.8,684.8 429.2,681.6 433,681 429.2,686 424.2,686 419.9,682.2 417.4,677.9 413,679.8 409.9,677.2"/>
</g>
<g fill="#e48066">
<polygon points="396.1,675.4 398.6,674.1 399.2,677.9 396.8,677.9"/>
</g>
<g fill="#e48066">
<polygon points="415.5,692.9 417.4,691 418.6,694.1 417.4,696.6"/>
</g>
<g fill="#c43b3c">
<polygon points="328,741 331.8,737.5 336.8,737.2 340.5,741 339.2,747.2 336.8,753.5 335.5,758.5 331.8,761.6 328,758.5 328.6,752.2 327.4,746"/>
</g>
<g fill="#c43b3c">
<polygon points="360.2,726 364.2,721 366.1,728.5 364.2,734.8 362.4,731"/>
</g>
<g fill="#c43b3c">
<polygon points="386.8,734.8 393,733.2 405.5,733.5 406.1,739.8 404.2,745.4 398,746 393,742.2 389.2,737.9"/>
</g>
<g fill="#c43b3c">
<polygon points="299,671.9 300.8,671.6 300.8,675.4 299,675.4"/>
</g>
<g fill="#c43b3c">
<polygon points="415.2,767 417,767 417,769.8 415.2,769.8"/>
</g>
<g fill="#c43b3c">
<polygon points="428.2,785.4 429.6,785.4 429.6,799.8 428.2,799.8"/>
</g>
<g fill="#c43b3c">
<polygon points="388.2,781.6 389.6,781.6 389.6,789.1 388.2,789.1"/>
</g>
<g fill="#f8bfa4">
<polygon points="268,666 296.8,666 296.1,676 296.8,688.5 300.5,697.2 305.5,706 310.5,713.5 311.8,722.2 311.8,731 311.1,739.8 314.2,747.2 310.5,748.5 303,749.1 296.8,746 293,741 288,736 283,733.5 279.2,729.8 276.1,731 278,734.1 282.4,736 283,741 285.5,746 290.5,751 299.2,753.5 309.2,752.2 318,753.5 323,758.5 325.5,764.8 329.2,771 335.5,774.8 339.9,779.8 339.2,786 337.4,792.2 334.2,794.8 331.1,789.8 329.9,783.5 327.4,786 327.4,798.5 330.5,804.8 333,811 340.5,812.2 348,811.6 346.8,816 341.8,818.5 339.9,824.8 333,824.8 332.4,832 268,832"/>
</g>
<g fill="#e48066">
<polygon points="268,714.8 271.1,718.5 273.6,721.6 271.8,724.8 268,724.8"/>
</g>
<g fill="#e48066">
<polygon points="268,754.8 270.5,758.5 271.8,762.9 268,763.5"/>
</g>
<g fill="#e48066">
<polygon points="280.5,814.8 284.2,809.8 288.6,805.4 292.4,807.2 294.2,809.8 300.5,808.5 309.2,806.6 315.5,803.5 319.2,807.2 319.9,813.5 317.4,817.9 311.8,819.5 305.5,818.5 299.2,815.4 294.2,814.1 291.8,816 286.8,816.6"/>
</g>
<g fill="#f7f6f6">
<polygon points="268,666 291.8,666 291.1,676 289.9,686 286.8,694.8 284.2,703.5 280.5,708.5 276.8,711.6 273,709.1 268,706.6"/>
</g>
<g fill="#f7f6f6">
<polygon points="301.8,766.6 309.2,766 311.1,772.2 309.9,776.6 303.6,776 301.5,771"/>
</g>
<g fill="#f7f6f6">
<polygon points="268,825.4 275.5,824.1 284.2,821.6 293,820.4 300.5,822.2 306.8,824.8 313,825 321.8,825.4 322.4,827.2 316.8,828.5 317.4,832 268,832"/>
</g>
<g fill="#f7f6f6">
<polygon points="274.2,806.6 278,805 281.8,806.6 278.6,809.1 274.9,808.8"/>
</g>
<g fill="#f7f6f6">
<polygon points="286.8,797.2 290.2,796.6 290.2,799.1 287,799.1"/>
</g>
<g fill="#f8bfa4">
<polygon points="348,733.5 350.8,730.4 354.2,736 358,739.8 361.1,742.2 358,746 354.2,749.1 351.1,751 349.9,755.4 348,751 347.4,743.5"/>
</g>
<g fill="#f8bfa4">
<polygon points="368,759.1 374.2,758.2 383,758.5 390.5,758.5 389.2,763.5 383,764.8 380.5,769.8 381.8,776 382.4,787.9 368,787.9 365.5,784.8 361.8,782.2 358,786.6 355.5,787.2 351.8,783.5 348,778.5 346.1,771 346.8,764.8 349.2,761 351.1,764.8 353,771 355.5,777.2 358,774.8 363,769.8 366.8,766"/>
</g>
<g fill="#f8bfa4">
<polygon points="394.9,787.9 399.2,782.2 404.2,776 409.2,770.4 413,774.8 416.8,781 421.8,789.1 405.5,789.1"/>
</g>
<g fill="#f8bfa4">
<polygon points="422.4,724.8 425.5,717.2 430.5,711 436,708.5 436,723.5 431.8,722.2 428,724.1 424.2,727.2"/>
</g>
<g fill="#f8bfa4">
<polygon points="368,789.8 382.4,789.1 383,803.5 382.4,816 384.2,823.5 383,832 333,832 333,824.8 340.5,824.8 343,817.2 348,814.8 354.2,817.2 360.5,821 366.8,818.5 363,814.8 358,809.8 361.8,803.5 365.5,797.2 368,793.5"/>
</g>
<g fill="#e48066">
<polygon points="372.4,793.5 375.5,792.2 376.8,794.1 374.2,796"/>
</g>
<g fill="#e48066">
<polygon points="373,817.9 374.9,816 375.8,817.9 374.2,820"/>
</g>
<g fill="#f8bfa4">
<polygon points="394.9,789.8 421.8,789.8 423,797.2 420.5,803.5 415.5,807.2 411.8,811 408,818.5 406.8,826 408,832 391.8,832 393,822.2 393.6,809.8 394.2,798.5"/>
</g>
<g fill="#c43b3c">
<polygon points="436,703 604,703 604,869 436,869"/>
</g>
<g fill="#e48066">
<polygon points="436,703 459.8,703 463.5,709.2 467.2,718 470.4,724.9 474.8,720.5 479.1,719.2 486,719.2 489.8,724.2 494.8,729.9 498.5,734.2 502.2,738.6 498.5,743 496,746.8 492.9,743 489.8,738 486,733 482.9,731.1 479.1,734.2 477.2,739.2 477.9,745.5 475.4,748 472.9,745.5 472.2,739.2 473.5,734.2 471,729.2 466.6,726.1 461,724.2 454.8,724.9 451,729.2 449.1,733.6 443.5,736.8 441.6,740.5 446,744.2 451,747.4 457.2,748 462.2,751.8 465.4,756.8 467.2,763 469.8,766.1 474.8,761.8 486,761.1 489.8,761.8 488.5,764.2 482.2,764.2 479.1,768 478.5,772.4 481,776.8 481.6,780.5 477.2,783 474.1,786.8 475.4,791.1 479.8,793.6 486,793 492.2,790.5 498.5,786.8 502.2,784.2 505.4,788 504.1,795.5 502.2,803 500.4,813 506,814.9 512.2,814.9 517.2,811.8 521,808 524.8,803.6 527.9,801.8 532.2,804.9 537.2,806.8 542.2,807.4 549.1,804.2 550.4,809.2 552.2,815.5 555.4,821.1 552.2,826.8 547.2,833 542.2,839.2 538.5,844.2 533.5,846.8 531,853 527.2,858 524.8,864.2 522.2,869 436,869"/>
</g>
<g fill="#c43b3c">
<polygon points="436,841.8 441,840.5 447.2,843.6 453.5,848 461,849.9 466,853 467.9,859.2 469.8,865.5 470.4,869 436,869"/>
</g>
<g fill="#c43b3c">
<polygon points="501,861.1 506,859.2 513.5,860.5 519.8,864.2 523.5,869 501,869"/>
</g>
<g fill="#c43b3c">
<polygon points="480,819.9 485.4,817.4 489.8,816.8 490.4,821.8 488.5,828.6 484.8,825.5"/>
</g>
<g fill="#c43b3c">
<polygon points="461,777 465.8,778.4 462.2,780.8"/>
</g>
<g fill="#e48066">
<polygon points="507.2,703 568.5,703 563.5,706.8 557.9,711.8 562.2,715.5 567.2,719.2 572.2,724.2 577.2,725.5 583.5,723.6 593.5,723 604,721.8 604,753 598.5,748.2 591,745.5 585.4,746.8 587.9,753 588.5,761.8 586,770.5 583.5,776.8 578.5,773 574.8,771.1 573.5,775.5 574.1,781.1 578.5,784.2 582.9,788 579.8,791.8 574.8,791.1 569.8,785.5 566,783 562.2,786.8 559.1,783 556,778 552.2,771.8 548.5,765.5 544.8,768 539.8,773 533.5,774.2 528.5,771.8 523.5,768 518.5,764.2 512.2,763 508.5,764.9 505.4,762.4 509.8,758 513.5,753 518.5,751.8 523.5,753 528.5,755.5 533.5,751.8 538.5,748 544.8,748 548.5,745.5 544.8,741.8 539.8,738 536,733 531,726.8 527.9,721.8 523.5,715.5 518.5,710.5 516,708.6 512.2,713 509.8,717.4 506,714.9 502.2,711.8 504.1,707.4"/>
</g>
<g fill="#e48066">
<polygon points="519.1,729.2 522.2,724.2 526,721.8 528.5,723 527.9,728 524.8,733 522.2,734.2"/>
</g>
<g fill="#f8bfa4">
<polygon points="436,703 452.2,703 456,708 457.9,713 453.5,718 448.5,721.8 443.5,725.5 438.5,729.2 436,729.9"/>
</g>
<g fill="#f7f6f6">
<polygon points="436,714.9 441,710.5 446.6,707.8 450.4,709.2 448.5,713 443.5,716.8 438.5,719.9 436,720.2"/>
</g>
<g fill="#f8bfa4">
<polygon points="523.5,703 563.5,703 559.1,706.8 553.5,711.8 558.5,716.8 564.8,721.8 568.5,726.8 571.6,729.2 568.5,734.2 564.8,736.8 566,741.8 569.8,746.8 574.8,745.5 579.8,749.2 584.1,755.5 582.2,763 579.8,768 577.2,764.2 573.5,760.5 568.5,760.5 566,764.2 567.9,770.5 568.5,778 566,780.5 562.2,783 559.8,778 556,771.8 553.5,765.5 551,759.2 548.5,755.5 543.5,759.2 538.5,763 534.8,761.8 536,758 539.8,754.9 544.8,753 549.8,750.5 552.2,745.5 549.8,740.5 544.8,736.8 541,733 537.9,728 536,721.8 532.2,715.5 527.2,709.2"/>
</g>
<g fill="#f7f6f6">
<polygon points="537.9,703 554.1,703 552.2,708 549.1,712.4 553.5,716.8 559.1,721.8 564.1,726.8 564.8,731.1 559.8,734.2 554.8,735.5 551,733.6 547.2,728 543.5,721.8 540.4,715.5 539.1,709.2"/>
</g>
<g fill="#f7f6f6">
<polygon points="554.1,753 556,749.9 557.9,753.6 556,758.6 554.1,756.8"/>
</g>
<g fill="#f8bfa4">
<polygon points="582.2,729.9 586,728 591,729.9 596,728.6 604,726.8 604,744.2 598.5,743.2 593.5,739.2 588.5,735.5 584.8,734.2"/>
</g>
<g fill="#f8bfa4">
<polygon points="436,813 437.9,803 440.4,793.6 443.5,796.8 448.5,800.5 454.8,801.1 456,809.2 457.2,818 459.1,823 453.5,826.1 448.5,828 443.5,829.2 439.8,826.8 436,828"/>
</g>
<g fill="#f8bfa4">
<polygon points="436,833 443.5,831.8 451,833 456,836.8 461,839.2 468.5,841.8 473.5,844.2 478.5,845.5 483.5,846.8 484.1,869 472.2,869 471,861.8 468.5,855.5 464.8,850.5 458.5,848 453.5,845.5 451,840.5 444.8,836.8 436,839.2"/>
</g>
<g fill="#f8bfa4">
<polygon points="492.9,823 501,821.1 508.5,819.9 516,818 522.2,814.2 526,809.2 532.2,809.2 538.5,811.8 544.8,812.4 549.1,811.8 550.4,816.8 552.9,821.1 548.5,826.8 544.8,833 541.6,838 536,839.2 532.9,835.5 528.5,831.8 523.5,833.6 519.8,837.4 522.2,841.8 526,845.5 524.8,851.8 523.5,859.2 518.5,861.8 511,858 504.8,858 501,860.5 500.4,869 484.1,869 484.1,846.8 488.5,841.8 491,835.5 492.2,829.2"/>
</g>
<g fill="#c43b3c">
<polygon points="526.6,837.5 528.5,837.5 528.5,839.2 526.6,839.2"/>
</g>
<g fill="#f7f6f6">
<polygon points="538.8,822.4 541.2,819.5 544.1,822 541.6,825.5"/>
</g>
<g fill="#f7f6f6">
<polygon points="494.8,833.6 499.8,829.2 506,828.6 511,831.8 514.1,836.8 516,843 517.2,849.2 515.4,854.2 512.2,851.8 508.5,846.8 506,850.5 503.5,854.2 498.5,854.9 494.8,858 493.5,864.2 494.8,869 484.1,869 484.1,847.4 488.5,844.2 491.6,839.2"/>
</g>
<g fill="#f8bfa4">
<polygon points="496,856.1 499.8,855.2 500.4,869 497.2,869 496.6,861.8"/>
</g>
<g fill="#c43b3c">
<polygon points="604,703 772,703 772,869 604,869"/>
</g>
<g fill="#e48066">
<polygon points="629,703 772,703 772,706.8 767.8,710.5 764,714.2 760.2,712.4 754,713 747.8,712.4 741.5,716.8 734,721.8 727.8,723.6 724,718 720.2,711.8 714,707.4 710.2,710.5 708.4,718 707.8,726.8 706.5,731.1 704,725.5 702.8,719.2 696.5,715.5 690.2,712.4 686.5,713.6 685.9,719.2 684,724.2 680.2,729.9 685.2,732.4 690.2,734.2 694,738 699,741.8 704,743.6 709,743 714,746.8 716.5,754.2 720.2,760.5 725.2,766.8 730.2,771.8 735.2,778 740.2,784.2 745.2,789.2 745.2,798 744,803 745.9,815.5 747.8,821.8 752.8,826.8 754,833 752.1,840.5 756.5,844.2 760.2,849.2 761.5,855.5 757.8,861.8 754,864.2 749,858 742.8,851.8 736.5,846.8 729,845.5 721.5,844.9 716.5,845.5 712.8,849.2 706.5,853 704,848 702.8,840.5 703.4,835.5 702.8,828 701.5,823 701.5,813 697.8,814.2 697.8,821.8 696.5,829.2 694,834.2 692.8,840.5 695.2,850.5 696.5,859.2 697.8,869 671.5,869 666.5,860.5 660.2,853 654,844.2 649,836.8 646.5,828 641.5,820.5 636.5,811.8 630.9,803 629,795.5 624,785.5 619,776.8 614,769.2 607.8,760.5 604,753.6 604,723.5 609,725.2 615.2,729.5 620.2,736.8 624.6,740.5 627.8,731.8 625.2,721.8 624.6,714.2"/>
</g>
<g fill="#c43b3c">
<polygon points="630.9,740.5 635.2,744.2 641.5,743 649,738.6 656.5,737.4 664,737.4 668.4,739.2 662.8,745.5 662.1,751.8 659,755.5 654,760.5 647.8,758 640.2,756.8 632.8,755.5 629,750.5 627.1,745.5"/>
</g>
<g fill="#c43b3c">
<polygon points="746.5,826.8 750.9,830.5 747.8,833.6 746.5,833"/>
</g>
<g fill="#c43b3c">
<polygon points="684,831.1 687.1,829.2 690.9,831.1 687.8,833.2"/>
</g>
<g fill="#c43b3c">
<polygon points="685.9,756.4 689,756.4 687.5,758.6"/>
</g>
<g fill="#f8bfa4">
<polygon points="634.6,703 674,703 676.5,708 675.9,715.5 671.5,721.8 665.2,725.5 659,729.9 651.5,732.4 644,734.2 637.8,739.2 634.6,738 633.4,731.8 632.1,724.2 630.2,716.8 631.5,709.2"/>
</g>
<g fill="#f7f6f6">
<polygon points="650.2,705.5 655.9,704.9 655.2,709.2 654,712 652.1,708.6"/>
</g>
<g fill="#f8bfa4">
<polygon points="675.2,736.5 680.2,736.8 685.2,740.5 690.2,745.5 687.8,749.2 681.5,750.5 677.8,754.2 674,759.2 669,765.5 666.5,763.6 669,759.2 671.5,755.5 669,751.8 667.1,746.8 670.2,741.8"/>
</g>
<g fill="#f8bfa4">
<polygon points="699,703 708.4,703 705.9,708 702.1,711.8 700.2,708"/>
</g>
<g fill="#f8bfa4">
<polygon points="725.9,703 744,703 741.5,708 734,709.9 729,708"/>
</g>
<g fill="#f8bfa4">
<polygon points="700.9,776.8 705.2,774.9 708.4,778 711.5,785.5 715.2,793 720.2,800.5 724,805.5 727.1,813 729,819.2 731.5,825.5 735.2,831.8 737.1,837.4 734,839.2 729,834.2 724,829.2 719,829.2 715.2,828 712.8,821.8 710.2,815.5 706.5,809.2 702.8,803 699,798 697.8,793 699,785.5 699.6,780.5"/>
</g>
<g fill="#f8bfa4">
<polygon points="604,731.1 607.8,730.5 612.8,734.2 617.8,740.5 622.8,748 625.9,755.5 631.5,759.2 639,761.8 645.2,765.5 650.2,771.8 654,778 657.8,785.5 660.2,794.2 664,801.8 669,810.5 674,819.2 677.8,828 681.5,834.2 686.5,840.5 690.2,846.8 691.5,856.8 692.1,869 674,869 669,861.8 662.8,854.2 657.8,846.8 652.8,838 650.2,830.5 645.2,821.8 640.2,814.2 635.2,806.8 631.5,798 628.4,788 626.5,778 620.2,770.5 615.2,761.8 609,753 604,745.5"/>
</g>
<g fill="#e48066">
<polygon points="630.9,779.9 633.4,779.2 635.9,782.4 633.4,783.6"/>
</g>
<g fill="#f7f6f6">
<polygon points="646.5,779.2 648.4,777.8 649.6,781.1 647.8,784.9 646.2,782.4"/>
</g>
<g fill="#f7f6f6">
<polygon points="652.1,790.5 654,789.2 655.2,794.2 657.8,801.8 661.5,809.2 666.5,818 670.2,825.5 674,833 677.8,839.2 681.5,844.2 685.2,849.2 686.5,856.8 685.2,864.2 684,869 680.2,869 676.5,863 671.5,859.2 666.5,853 665.2,846.8 669,840.5 667.8,835.5 664,835.5 661.5,840.5 659.6,839.2 662.8,833 665.2,830.5 662.8,825.5 660.2,819.2 657.8,813 655.2,805.5 653.4,798"/>
</g>
<g fill="#e48066">
<polygon points="816.4,755.5 820.1,751.1 825.8,753 830.8,746.8 833.9,743 837,738.6 843.2,736.1 848.2,733.6 850.1,728 850.8,721.8 853.2,720.2 855.5,723 856,729.2 858.2,734.2 867,734.2 870.8,729.9 872,728 874.5,733 879.5,738 882,745.5 885.1,751.1 892,749.9 899.5,749.9 902.6,754.9 902,761.8 899.5,769.2 893.9,773 888.9,778 885.8,784.2 879.5,786.8 874.5,790.5 870.8,793.6 864.5,795.8 855.8,795.8 849.5,793.6 840.1,792.4 835.8,788 829.5,784.9 824.5,780.5 822.6,773 818.9,766.8 816.4,761.8"/>
</g>
<g fill="#f8bfa4">
<polygon points="851.4,773 854.5,770.2 860.8,770.5 866.4,771.8 866.4,776.8 863.9,781.1 858.9,783.6 853.2,782.4 851.4,778"/>
</g>
<g fill="#e48066">
<polygon points="100,832 268,832 268,998 100,998"/>
</g>
<g fill="#c43b3c">
<polygon points="142.5,832 157.5,832 157.8,837 155,842.6 148.8,843.9 145,839.5"/>
</g>
<g fill="#c43b3c">
<polygon points="186.2,832 190,832 193.1,837 196.2,842.6 198.1,847 195,850.8 190,855.8 186.2,853.2 183.1,847 181.9,842 183.8,835.8"/>
</g>
<g fill="#c43b3c">
<polygon points="213.1,846.4 218.1,846.4 217.5,848.2 213.5,848"/>
</g>
<g fill="#c43b3c">
<polygon points="138.8,860 141,859.8 141.2,863 139,863"/>
</g>
<g fill="#c43b3c">
<polygon points="145,868.9 150,868.9 156.9,869.5 153.8,873 148.1,871.4"/>
</g>
<g fill="#c43b3c">
<polygon points="192.5,874.5 195.6,870.1 200,868.9 205,870.8 206.9,875.8 206.5,882 203.8,885.8 199.4,887.2 194.4,885.8 192.1,880.8"/>
</g>
<g fill="#c43b3c">
<polygon points="115,885.1 120.6,883.9 121.2,887 118.8,890.1"/>
</g>
<g fill="#c43b3c">
<polygon points="130,889.5 137.5,888.9 143.8,888.2 152.5,889.5 162.5,889.5 170,892.6 176.2,895.8 181.2,899.5 185,902 188.8,899.5 191.9,892 194.4,894.5 196,900.8 195,909.5 193.8,914.5 190,915.8 186.2,912 182.5,913.2 178.1,917.6 175,912 171.2,912 167.5,914.5 165,918.2 162.5,924.5 160,930.8 157.5,933.9 155,929.5 151.9,923.9 146.2,923.2 137.5,923.9 130,922 122.5,921.4 116.2,919.5 114.8,913.2 115,904.5 114.4,902 118.8,897 123.1,895.8 126.2,892"/>
</g>
<g fill="#c43b3c">
<polygon points="208.8,935.8 212.5,932.6 218.8,932 223.1,935.8 230,937 235,939.5 231.2,944.5 227.5,950.8 225,958.2 220,954.5 216.2,952 211.2,954.5 208.8,949.5 208.1,942"/>
</g>
<g fill="#c43b3c">
<polygon points="242.5,948.2 245,948.9 245,955.8 250,960.8 257.5,958.2 263.8,955.8 268,954.5 268,998 218.1,998 220,990.8 223.1,983.2 227.5,978.2 232.5,969.5 235.6,963.2 238.8,959.5 241.9,955.8"/>
</g>
<g fill="#f8bfa4">
<polygon points="221.9,832 268,832 268,857 263.8,855.8 261.9,862 262.5,869.5 263.8,877 261.2,883.2 256.2,885.8 250,888.2 245,891.4 245.6,884.5 248.1,878.2 253.8,870.8 259.4,865.8 256.2,862.6 250,862 245,864.5 242.5,869.5 241.2,874.5 238.8,872 236.9,865.8 233.8,863.2 230.6,868.2 226.2,877 223.1,874.5 220.6,870.8 222.5,865.8 221.9,860.8 220,855.8 222.5,850.8 225,845.8 223.1,839.5"/>
</g>
<g fill="#f7f6f6">
<polygon points="238.1,832 268,832 268,842.6 263.8,844.5 258.8,845.8 253.8,844.5 247.5,843.2 242.5,839.5 239.4,835.8"/>
</g>
<g fill="#f7f6f6">
<polygon points="259,873 260.6,872.6 260.6,876.4 259.1,876"/>
</g>
<g fill="#f8bfa4">
<polygon points="113.8,845.8 116.9,836.4 120,835.8 121.9,850.8 118.8,853.9 114,853.5"/>
</g>
<g fill="#f8bfa4">
<polygon points="218.1,905.8 221.9,903.9 227.5,905.1 232.5,908.9 237.5,914.5 242.5,919.5 245.6,923.9 240,925.8 233.1,925.1 227.5,922 223.8,917 220.6,912"/>
</g>
<g fill="#f8bfa4">
<polygon points="268,900.1 261.2,900.8 255,905.8 250,912 246.2,917 245.6,924.5 248.1,932 251.2,939.5 256.2,935.8 261.2,942 265,946.4 268,947"/>
</g>
<g fill="#f7f6f6">
<polygon points="268,908.2 265,912 261.2,918.2 257.5,924.5 255,930.8 258.8,934.5 262.5,938.2 266.2,942 268,941.4"/>
</g>
<g fill="#f8bfa4">
<polygon points="110,930.8 116.2,932 122.5,935.8 128.8,941.4 133.8,940.8 141.2,938.9 150,937 155,940.8 161.2,943.2 167.5,940.1 171.9,935.8 177.5,931.4 181.2,934.5 187.5,938.2 190.6,940.8 190,945.8 196.2,948.2 203.8,950.8 206.2,957 210,962 213.8,964.5 216.9,968.2 215.6,974.5 212.5,982 210.6,988.2 210,998 110,998"/>
</g>
<g fill="#f7f6f6">
<polygon points="108.8,957 113.8,959.5 118.8,963.2 122.5,965.8 127.5,960.8 131.2,962 135,967 138.8,970.8 136.2,974.5 133.1,978.2 133.8,983.2 137.5,988.2 140.6,993.2 141.2,998 107.5,998"/>
</g>
<g fill="#f7f6f6">
<polygon points="161.2,955.8 165,952 169.4,949.5 172.5,953.9 176.2,957 182.5,958.2 190,958.9 197.5,958.2 202.5,956.4 205,962 207.5,967 210,970.8 207.5,975.8 202.5,979.5 196.2,982 190,985.8 186.2,992 183.8,998 166.2,998 162.5,993.2 158.8,989.5 155,987 156.9,980.8 156.2,973.2 150,974.5 147.5,972 145,969.5 148.8,964.5 150,962 153.8,967.6 158.8,966.4 160,960.8"/>
</g>
<g fill="#f8bfa4">
<polygon points="107.5,997.8 210.6,997.8 208.8,1002 202.5,1004.5 201.2,1012 107.5,1012"/>
</g>
<g fill="#e48066">
<polygon points="210.6,997.8 220,997.8 218.8,1000.8 225,1002.6 235,1003.9 241.2,1000.1 250,1007 251.2,1012 201.2,1012 202.5,1004.5 208.8,1002"/>
</g>
<g fill="#c43b3c">
<polygon points="220,997.8 268,997.8 268,1012 251.2,1012 250,1007 241.2,1000.1 235,1003.9 225,1002.6 218.8,1000.8"/>
</g>
<g fill="#f7f6f6">
<polygon points="107.5,997.8 141.2,997.8 137.5,1002 133.8,1004.5 107.5,1005"/>
</g>
<g fill="#f7f6f6">
<polygon points="162.5,997.8 177.8,997.8 168.1,1005 166.2,1002"/>
</g>
<g fill="#e48066">
<polygon points="268,832 436,832 436,998 268,998"/>
</g>
<g fill="#c43b3c">
<polygon points="406.8,843.9 410.5,844.5 411.8,850.8 416.8,854.5 421.8,860.8 426.8,867 430.5,863.2 436,857 436,884.5 430.5,882 424.2,877 418,873.2 411.8,870.8 405.5,873.2 399.2,877 393,880.1 388,877 389.2,870.8 391.8,864.5 395.5,858.2 400.5,853.2 404.2,848.2"/>
</g>
<g fill="#c43b3c">
<polygon points="383.6,902 388,905.8 394.2,908.2 400.5,909.5 405.5,914.5 411.8,922 411.8,935.8 411.8,942 408,945.8 404.2,948.2 399.2,944.5 393,945.8 386.8,948.2 381.8,950.8 379.9,957 381.1,963.2 384.2,969.5 386.8,964.5 393,960.8 400.5,958.2 408,955.8 415.5,955.1 420.5,952 426.8,950.1 436,950.1 436,998 354.2,998 354.2,979.5 355.5,963.2 361.8,958.2 366.8,962 371.8,958.2 374.2,953.2 371.8,947.6 369.2,943.2 374.2,940.8 380.5,935.8 385.5,930.8 386.8,924.5 384.9,917 383,909.5"/>
</g>
<g fill="#c43b3c">
<polygon points="268,945.8 274.2,943.9 280.5,940.8 286.8,938.2 291.1,929.5 295.5,927 304.2,922 305.5,914.5 306.8,922 305.5,930.8 303,938.2 301.1,944.5 302.4,949.5 306.8,952.6 314.2,955.1 323,957 326.8,953.9 330.5,950.8 333,952.6 336.8,955.8 343,952 345.5,948.2 350.5,952 354.5,952.6 354.5,998 268,998"/>
</g>
<g fill="#c43b3c">
<polygon points="357.4,867.6 363,867 370.5,868.2 368,870.1 360.5,870.1"/>
</g>
<g fill="#c43b3c">
<polygon points="375.5,868.2 380.5,866.4 386.1,868.5 380.5,871"/>
</g>
<g fill="#c43b3c">
<polygon points="344.2,933.2 346.8,930.8 348.6,935.8 346.8,939.8 344.5,938.2"/>
</g>
<g fill="#c43b3c">
<polygon points="336.8,942.6 341.8,942 340.5,944.5 337.4,944.5"/>
</g>
<g fill="#e48066">
<polygon points="283,998 284.2,990.8 288,980.8 294.2,978.2 300.5,974.5 305.5,970.8 310.5,966.4 313.6,968.9 323,970.8 330.5,970.1 336.1,972 340.5,978.2 341.1,988.2 339.9,998"/>
</g>
<g fill="#f8bfa4">
<polygon points="268,832 349.2,832 349.9,839.5 348,844.5 343,840.8 339.2,844.5 335.5,848.2 330.5,844.5 326.8,843.2 323,848.2 321.8,854.5 320.5,860.8 316.8,863.2 312.4,865.8 313,873.2 316.1,875.8 320.5,870.8 324.2,874.5 326.8,880.8 329.2,887 329.2,869.5 329.2,860.8 333,855.8 336.8,857 340.5,862 343,868.2 345.5,874.5 348,879.5 355.5,885.8 355.5,889.5 333,889.5 310.5,888.2 305.5,883.2 300.5,882 295.5,885.8 290.5,887 285.5,882 280.5,887 271.8,888.2 268,887 268,879.5 273,875.8 276.8,869.5 278.6,864.5 276.8,858.2 273,854.5 268,853.9"/>
</g>
<g fill="#f8bfa4">
<polygon points="349.2,832 411.8,832 411.8,839.5 405.5,842 399.2,845.8 393,850.8 388,855.8 383,857 378,858.2 373,862 368,863.9 363,862 359.9,858.2 358,854.5 354.2,852 350.5,844.5"/>
</g>
<g fill="#e48066">
<polygon points="370.5,833.9 374.2,832 388,832 385.5,835.8 380.5,838.2 374.2,837.6"/>
</g>
<g fill="#c43b3c">
<polygon points="377.4,834.8 380.5,833.9 383.6,835.1 380.5,836.6"/>
</g>
<g fill="#f7f6f6">
<polygon points="378,844.5 383,842.6 386.8,844.5 383,849.5 379.9,852 378.6,848.2"/>
</g>
<g fill="#f8bfa4">
<polygon points="357.4,887 363,883.2 370.5,879.5 378,877.6 385.5,880.8 391.8,882 398,879.5 404.2,875.8 410.5,874.5 411.8,884.5 413,885.8 411.8,919.5 405.5,912 400.5,907 394.2,905.8 388,903.2 383,902 383.6,909.5 385.5,917 386.8,924.5 384.2,929.5 379.2,933.2 374.2,935.8 355.5,933.9 356.1,927 358,924.5 355.5,919.5 355.5,889.5"/>
</g>
<g fill="#e48066">
<polygon points="378,879.5 380.5,878.2 382.4,884.5 381.1,892 379.2,894.5 377,887"/>
</g>
<g fill="#f7f6f6">
<polygon points="386.1,888.9 390.5,890.8 396.8,892 403,890.8 408.6,892 409.2,895.8 404.2,899.5 399.2,904.5 394.2,905.1 390.5,902 388,897 386.1,893.2"/>
</g>
<g fill="#f7f6f6">
<polygon points="356.1,893.2 359.2,898.2 363,905.8 365.5,909.5 361.8,913.2 358,914.5 355.8,912"/>
</g>
<g fill="#f7f6f6">
<polygon points="368,912 374.2,909.5 379.9,907 381.1,912 378,918.2 373,923.2 368,928.2 365.5,930.8 364.9,927 368,919.5 369.2,914.5"/>
</g>
<g fill="#f8bfa4">
<polygon points="413,832 436,832 436,839.5 431.8,845.8 429.2,854.5 426.8,863.2 423,857 418,850.8 413.6,844.5"/>
</g>
<g fill="#f8bfa4">
<polygon points="413,885.8 418,882 424.2,884.5 430.5,888.2 436,890.8 436,942 411.8,942"/>
</g>
<g fill="#f7f6f6">
<polygon points="414.2,903.2 420.5,902 436,900.8 436,934.5 426.8,933.9 419.9,937.6 418,930.8 421.8,922 419.2,914.5 416.1,908.2"/>
</g>
<g fill="#f8bfa4">
<polygon points="288.6,899.5 291.8,895.1 296.8,895.8 299.9,900.8 301.1,907 301.8,917 298.6,922 295.5,918.2 293,912 289.9,905.8"/>
</g>
<g fill="#f8bfa4">
<polygon points="268,918.2 273,919.5 275.5,923.2 281.8,927 286.8,932 288,935.8 283,935.1 275.5,935.8 270.5,937.6 268,938.2"/>
</g>
<g fill="#f7f6f6">
<polygon points="268,919.5 271.1,923.2 273,928.2 270.5,932 268,933.2"/>
</g>
<g fill="#f8bfa4">
<polygon points="310.5,888.2 355.5,889.5 355.5,919.5 354.2,927 348,923.2 344.2,918.2 340.5,924.5 338,930.8 333,935.8 329.2,940.8 325.5,944.5 318,942 311.8,943.2 305.5,945.8 302.4,943.2 304.2,938.2 306.8,932 308,922 309.2,914.5 309.2,902 309.2,894.5"/>
</g>
<g fill="#f7f6f6">
<polygon points="311.8,899.5 315.5,897 321.8,895.8 326.8,894.5 331.8,892 333,885.8 339.2,885.1 340.5,890.8 343,897 345.5,907 348,903.2 351.1,900.8 354.9,892 355.5,918.2 350.5,919.5 345.5,913.2 341.8,919.5 338,925.8 333,930.8 329.2,928.2 326.8,922 324.2,927 321.8,933.2 318,937 311.8,938.2 309.9,933.2 311.8,925.8 312.4,917 310.5,908.2"/>
</g>
<g fill="#e48066">
<polygon points="345.2,891.4 347,891.4 347,903.2 345.5,903.2"/>
</g>
<g fill="#f7f6f6">
<polygon points="318,879.5 319.9,875.8 321.8,879.5 322.4,884.5 320.5,887.9 318,885.8"/>
</g>
<g fill="#f8bfa4">
<polygon points="300.5,985.8 304.2,981.4 310.5,978.9 316.8,980.1 321.1,984.5 322.4,990.8 319.2,995.8 314.2,997 306.8,996.4 301.8,992.6"/>
</g>
<g fill="#f8bfa4">
<polygon points="361.8,953.2 364.5,950.1 367.4,953 364.5,956.4"/>
</g>
<g fill="#f8bfa4">
<polygon points="388,953.5 391.1,950.8 393.6,953.2 391.1,956.4"/>
</g>
<g fill="#f8bfa4">
<polygon points="383,961.4 384.9,958.9 386.1,962 384.5,964.5"/>
</g>
<g fill="#f8bfa4">
<polygon points="355.5,993.2 356.1,982 357.4,978.2 357,993.2"/>
</g>
<g fill="#f7f6f6">
<polygon points="268,832 279.2,832 276.8,838.2 271.8,842 268,841.4"/>
</g>
<g fill="#f7f6f6">
<polygon points="284.2,832 316.8,832 315.5,837 311.8,840.8 309.2,847 305.5,852 303,857 305.5,864.5 306.8,872 303,870.8 298,864.5 296.8,857 298,847 296.8,839.5 290.5,837"/>
</g>
<g fill="#f7f6f6">
<polygon points="333.2,832 336.1,832 336.1,838.9 334,839.5"/>
</g>
<g fill="#c43b3c">
<polygon points="268,998 436,998 436,1012 268,1012"/>
</g>
<g fill="#e48066">
<polygon points="283,997.8 300.5,997.8 300.8,1001 294.2,1008.8 274.2,1009.5 283.6,1007"/>
</g>
<g fill="#e48066">
<polygon points="317.4,997.8 341.1,997.8 340.8,1007 336.1,1011.5 326.8,1010.8 318,1001.2"/>
</g>
<g fill="#e48066">
<polygon points="300.5,997.8 318,997.8 318,1001.2 300.8,1001"/>
</g>
<g fill="#e48066">
<polygon points="374.9,1003.8 380.5,999.8 386.1,1003.8 381.1,1008"/>
</g>
<g fill="#e48066">
<polygon points="388.6,995.2 391.8,995.2 390.2,998"/>
</g>
<g fill="#c43b3c">
<polygon points="436,869 604,869 604,1035 436,1035"/>
</g>
<g fill="#e48066">
<polygon points="436,869 478.5,869 477.2,876.5 479.1,882.8 479.8,900.2 485.4,900.2 487.9,896.5 492.2,892.8 499.8,891.5 508.5,891.5 514.1,894 517.2,899.6 518.5,905.2 523.5,902.1 528.5,900.2 533.5,900.9 537.9,905.9 541,912.8 543.5,919 546,924 552.2,925.9 556,930.2 556.6,937.8 554.1,942.1 546,944 542.2,947.1 546,952.8 547.9,959 546,965.2 548.5,971.5 552.2,979 556,987.8 561,994 566,999 568.5,1005.2 571,1015.9 478.5,1015.9 472.2,1010.2 467.2,1005.2 462.2,1001.5 457.2,999 454.8,995.2 459.1,987.8 462.9,982.8 466.6,979 459.8,975.2 452.2,972.8 447.2,969 444.1,964 446.6,956.5 447.9,950.2 448.5,945.2 441,942.8 436,944"/>
</g>
<g fill="#c43b3c">
<polygon points="454.8,869 473.5,869 472.2,872.8 467.2,876.5 463.5,880.2 459.8,881.5 457.2,876.5"/>
</g>
<g fill="#c43b3c">
<polygon points="477.9,877.8 482.2,877.8 481.6,887.8 479.8,888.4 478.5,882.8"/>
</g>
<g fill="#e48066">
<polygon points="529.1,882.8 532.9,877.8 538.5,875.9 544.1,877.1 547.2,882.1 546.6,889 543.5,893.4 538.5,894.9 533.5,892.8 529.8,888.4"/>
</g>
<g fill="#e48066">
<polygon points="604,910.9 598.5,914 594.8,918.4 589.1,923.4 588.5,931.5 591.6,939 592.9,946.5 597.2,950.9 604,955.2"/>
</g>
<g fill="#e48066">
<polygon points="482.9,869 499.8,869 503.5,872.1 498.5,874.6 491,875.2 485.4,873.4"/>
</g>
<g fill="#f8bfa4">
<polygon points="485.4,869 498.5,869 496,872.1 489.8,872.8"/>
</g>
<g fill="#f7f6f6">
<polygon points="489.8,869 494.8,869 492.9,870.5"/>
</g>
<g fill="#f8bfa4">
<polygon points="436,869 454.8,869 457.9,877.8 461,882.8 466,877.8 471,880.2 474.8,885.2 477.2,891.5 473.5,897.8 471,905.2 474.8,910.2 477.9,914 478.5,939 473.5,937.1 467.2,935.9 461,934 454.8,935.2 449.8,931.5 446,929 442.2,934 436,939"/>
</g>
<g fill="#e48066">
<polygon points="451.6,885.2 456,882.1 460.4,884 457.2,889.6 453.5,894 451.2,890.2"/>
</g>
<g fill="#f7f6f6">
<polygon points="436,893.4 441,894 447.2,897.8 453.5,901.5 458.5,895.2 463.5,889 468.5,885.2 472.2,886.5 473.5,891.5 469.8,897.8 466,902.8 462.9,907.8 463.5,914 467.2,919 472.2,914 477.2,917.8 477.9,939 473.5,935.2 467.2,932.8 461,930.2 454.8,927.8 449.8,924 444.8,925.2 441,930.2 436,934"/>
</g>
<g fill="#e48066">
<polygon points="465.4,911.5 467.2,909.6 469.1,913.4 466.6,915.9"/>
</g>
<g fill="#f8bfa4">
<polygon points="479.8,915.2 479.8,900.2 483.5,906.5 489.8,910.2 491,901.5 493.5,895.9 501,894 508.5,895.9 512.2,901.5 511,907.8 508.5,911.5 512.2,916.5 517.2,912.8 523.5,909.6 532.2,909 536,915.2 539.8,921.5 544.8,927.8 551,929.6 553.5,935.2 551.6,940.2 543.5,941.5 536,942.8 526,946.5 524.8,949 533.5,950.2 539.8,952.8 542.2,957.8 541,966.5 539.8,974 538.5,981.5 537.9,987.8 532.9,992.8 528.5,990.2 524.8,985.2 522.2,979 519.1,974.6 514.8,979 513.5,982.8 518.5,987.8 523.5,992.8 522.2,996.5 526,1001.5 532.2,1003.4 538.5,1005.2 543.5,1010.2 546.6,1015.9 507.2,1015.9 503.5,1006.5 499.8,1009 497.2,1015.9 487.2,1015.9 487.9,1000.2 486.6,989 483.5,986.5 478.5,986.5 476,991.5 474.8,997.8 471,1001.5 466,999 461.6,996.5 463.5,990.2 468.5,985.2 473.5,981.5 474.1,975.2 472.2,969 468.5,972.8 463.5,971.5 458.5,969 456,962.8 452.2,959 449.8,954 454.8,949 461,944 468.5,942.8 478.5,942.1 483.5,942.1 483.5,939 479.8,939"/>
</g>
<g fill="#f7f6f6">
<polygon points="479.8,922.8 486,920.2 492.2,919.6 497.2,916.5 500.4,911.5 501,905.2 505.4,904.6 503.5,909 501,915.2 500.4,925.2 499.1,934 497.9,940.2 479.8,940.9"/>
</g>
<g fill="#f7f6f6">
<polygon points="484.1,942.8 493.5,942.8 489.8,947.8 488.5,956.5 489.8,965.2 493.5,969 495.8,972.8 492.2,977.5 488.5,972.8 485.4,967.8 484.1,956.5"/>
</g>
<g fill="#f7f6f6">
<polygon points="455.4,955.2 461,950.2 465.4,946.2 468.5,949 471,952.8 474.8,950.2 478.5,947.8 481.6,949 481,956.5 477.2,956.5 472.2,957.8 468.5,961.5 465.4,964.6 461,960.2"/>
</g>
<g fill="#e48066">
<polygon points="513.5,939 517.2,936.9 521.6,938.8 518.5,941.8"/>
</g>
<g fill="#e48066">
<polygon points="511,913.4 513.2,912.1 514.8,914.2 512.5,915.9"/>
</g>
<g fill="#e48066">
<polygon points="470.8,970.9 473.2,972.1 471.6,974.6"/>
</g>
<g fill="#e48066">
<polygon points="436,869 439.4,869 440.4,876.5 438.5,884 436,886.5"/>
</g>
<g fill="#e48066">
<polygon points="452,869 453.5,869 455.6,874.6 460.1,882.1 461.6,884.6 460.4,884 456,882.1 451.6,885.2 452.9,876.5"/>
</g>
<g fill="#c43b3c">
<polygon points="604,869 772,869 772,1035 604,1035"/>
</g>
<g fill="#e48066">
<polygon points="604,910.2 607.8,907.8 612.8,903.4 621.5,901.5 627.8,897.8 634,895.9 641.5,897.1 647.8,901.5 650.9,906.5 652.1,914 654,922.8 656.5,931.5 658.4,940.2 660.9,947.8 657.8,950.9 652.8,954 651.5,959 649,962.8 642.8,965.2 637.8,967.8 632.8,969 626.5,967.8 620.2,965.2 614,961.5 607.8,959 604,958.4"/>
</g>
<g fill="#e48066">
<polygon points="673.4,869 697.1,869 694,876.5 692.8,881.5 699,884 707.8,885.2 715.2,886.5 720.9,882.1 724,886.5 727.1,892.8 734,895.9 740.2,895.9 742.1,899 737.8,905.2 734,911.5 730.2,915.2 734,924 738.4,932.8 741.5,936.5 747.8,938.4 754,935.2 761.5,932.8 769,936.5 772,937.1 772,1017.8 661.5,1017.8 661.5,1006.5 659,1000.2 657.8,999 659.6,995.2 660.9,987.8 661.5,975.2 662.8,965.2 665.2,957.8 670.2,960.2 677.8,959.6 682.8,958.4 686.5,956.5 690.2,962.1 692.8,967.8 699,962.8 704,959 707.8,955.9 712.8,957.8 720.2,962.1 720.9,955.2 719,950.2 714,945.2 710.2,942.8 706.5,941.5 712.8,937.8 716.5,931.5 717.1,924 715.2,916.5 711.5,911.5 706.5,907.1 702.8,910.2 701.5,914 695.2,915.9 689,917.1 681.5,919 674,919.6 666.5,917.8 664,911.5 662.8,904 663.4,897.8 666.5,892.8 669,886.5 671.5,879 672.8,874"/>
</g>
<g fill="#e48066">
<polygon points="664.9,939 667.1,937.8 669,940.9 665.2,942.1"/>
</g>
<g fill="#e48066">
<polygon points="677.1,941.2 680.5,940.9 680.9,949 679,951.8 677.5,949"/>
</g>
<g fill="#e48066">
<polygon points="651.2,982.1 653.4,979.6 655.2,982.5 653.4,985.9"/>
</g>
<g fill="#e48066">
<polygon points="618.4,999 622.8,997.8 627.1,999 625.9,1001.8 620.2,1001.8"/>
</g>
<g fill="#f8bfa4">
<polygon points="675.9,869 690.2,869 689,874 687.8,879 690.2,885.2 695.2,889 701.5,891.5 707.8,892.8 714,895.9 720.2,898.4 724.6,899.6 724,904 720.9,906.5 716.5,902.8 711.5,899.6 704,899 699,901.5 695.2,906.5 691.5,905.2 687.8,902.8 682.8,901.5 679,897.8 676.5,894 677.8,887.8 676.5,881.5 677.1,874"/>
</g>
<g fill="#f8bfa4">
<polygon points="731.5,906.8 734,906.5 734,908.4 731.8,908.4"/>
</g>
<g fill="#f8bfa4">
<polygon points="724.6,933.4 729,931.5 731.5,939 732.1,944 736.5,946.5 741.5,949 747.8,946.5 754,942.8 760.2,940.2 766.5,939 772,940.9 772,952.8 767.8,954 764,959 761.5,966.5 756.5,970.2 749,972.8 746.5,976.5 745.9,987.8 745.2,1000.2 744.6,1006.5 747.8,1010.2 750.2,1005.2 751.5,999 755.2,997.8 760.2,1001.5 764,1006.5 769,1010.2 772,1010.9 772,1017.8 732.8,1017.8 730.2,1006.5 729,994 729,966.5 727.1,956.5 727.8,949 725.2,942.8"/>
</g>
<g fill="#f7f6f6">
<polygon points="739.6,958.4 742.8,954 747.8,950 749.6,952.8 752.1,956.5 750.2,960.9 746.5,961.5 742.8,959.6"/>
</g>
<g fill="#f7f6f6">
<polygon points="738.4,989 740.5,985.9 742.1,989.6 740.9,994.6 738.8,992.8"/>
</g>
<g fill="#f8bfa4">
<polygon points="680.5,982.1 685.2,980.9 689,985.2 693.4,990.9 692.8,994.6 687.8,992.8 684,989"/>
</g>
<g fill="#c43b3c">
<polygon points="772,869 940,869 940,1035 772,1035"/>
</g>
<g fill="#e48066">
<polygon points="772,936.5 775.1,937.8 777.6,942.8 779.5,949 785.8,950.2 792,949 803.2,947.8 815.8,946.5 825.8,944 838.2,944 849.5,942.8 859.5,944 867,947.8 871.4,951.5 872,957.8 875.8,962.8 878.2,966.5 878.2,984 889.5,984.6 890.8,979 892,974 899.5,972.8 907,969 914.5,965.2 920.8,960.2 923.9,955.2 925.8,949 932,944 940,939.6 940,1017.8 772,1017.8"/>
</g>
<g fill="#c43b3c">
<polygon points="798.9,966.2 801,964.6 803.2,966.2 801.4,968.4"/>
</g>
<g fill="#c43b3c">
<polygon points="805.8,974 808.2,972.1 811,974.2 808.2,976.5"/>
</g>
<g fill="#c43b3c">
<polygon points="906,990.2 908.9,988.8 912,990.2 910.8,993.4 907.6,993"/>
</g>
<g fill="#c43b3c">
<polygon points="915.8,994.6 919.5,999 923.2,1004 923.5,1009 915.8,1010.9 908.2,1012.1 907,1007.8 910.8,1002.8 913.2,998.4"/>
</g>
<g fill="#f8bfa4">
<polygon points="796,982.8 800.8,980.9 807,981.5 813.2,985.9 820.8,984 827,979 832,977.8 837,979 842,983.4 847,989 852,995.2 858.2,1001.5 863.2,1006.5 868.2,1010.2 874.5,1011.5 878.9,1015.9 878.9,1017.8 801.4,1017.8 802,1007.8 798.9,1002.8 796.4,999 795.8,989"/>
</g>
<g fill="#f8bfa4">
<polygon points="772,1012.8 775.8,1014 779.5,1017.1 772,1017.8"/>
</g>
<g fill="#f8bfa4">
<polygon points="772,947.8 774.5,948.4 773.9,951.5 772,951.5"/>
</g>
<g fill="#e48066">
<polygon points="940,869 1108,869 1108,1035 940,1035"/>
</g>
<g fill="#c43b3c">
<polygon points="940,869 1063.1,869 1060,871.5 1060,879 1052.5,885.2 1048.1,889.6 1045,886.5 1041.2,883.4 1037.5,890.2 1027.5,894 1020,897.8 1013.8,900.2 1008.1,904.6 1001.2,903.4 995,901.2 990,902.8 981.2,904.6 980,911.5 978.8,917.8 976.2,922.8 968.8,921.5 961.2,926.5 952.5,931.5 946.2,934 940,937.8"/>
</g>
<g fill="#c43b3c">
<polygon points="1063.1,869 1077.5,869 1076.2,871.5 1070,872.5 1065,870.9"/>
</g>
<g fill="#f8bfa4">
<polygon points="987.5,921.5 993.8,927.1 1001.2,924.6 1008.1,927.8 1011.9,922.8 1015,917.8 1020,913.4 1027.5,912.1 1036.2,912.8 1041.2,911.2 1048.8,915.2 1054.4,911.5 1057.5,915.2 1059.4,921.5 1063.1,926.5 1065.6,930.2 1065,944 1063.8,950.2 1066.2,957.8 1071.2,964 1076.2,967.8 1082.5,961.5 1085,965.2 1084.4,972.8 1088.8,980.2 1096.2,974.6 1102.5,977.8 1108,980.2 1108,994 1103.8,992.1 1097.5,995.2 1093.8,1000.2 1083.8,1000.2 1077.5,1002.8 1073.1,1005.2 1073.1,1015.2 992.5,1015.2 983.8,1013.4 976.2,1010.2 971.2,1006.5 965,1001.5 960.6,997.8 963.8,991.5 967.5,985.2 973.8,981.5 971.2,975.2 968.8,966.5 966.2,957.8 970,952.8 973.1,946.5 974.4,939 982.5,937.1 985.6,930.2"/>
</g>
<g fill="#f8bfa4">
<polygon points="954.4,955.2 958.8,949 962.5,947.1 963.1,949.6 960,954 955.6,957.8"/>
</g>
<g fill="#e48066">
<polygon points="985,972.8 989.4,970.2 993.1,972.8 991.9,977.8 990,982.1 985.2,981.5"/>
</g>
<g fill="#e48066">
<polygon points="1075.2,979 1076.9,977.1 1078.1,979.6 1076.5,981.8"/>
</g>
<g fill="#f8bfa4">
<polygon points="1090,1011.5 1093.8,1009 1098.8,1010.2 1102.5,1014 1090,1015.2"/>
</g>
<g fill="#f7f6f6">
<polygon points="1021.2,925.2 1026.2,924 1032.5,925.9 1037.8,929.6 1035.6,935.2 1032.5,940.2 1028.8,945.2 1023.8,949.6 1020,949 1017.5,946.5 1018.5,939 1018.1,931.5"/>
</g>
<g fill="#f7f6f6">
<polygon points="1021.2,981.5 1027.5,979.6 1032.5,982.1 1038.8,987.8 1039.4,994 1038.1,1005.2 1032.5,1009 1025,1010.2 1020,1007.8 1013.8,1002.8 1008.8,999 1006.2,996.5 1010,989 1016.2,986.5"/>
</g>
<g fill="#f7f6f6">
<polygon points="995,1005.2 997.2,1003.4 997.2,1007.1"/>
</g>
<g fill="#e48066">
<polygon points="1108,869 1276,869 1276,1035 1108,1035"/>
</g>
<g fill="#c43b3c">
<polygon points="1188,896.5 1198,895.9 1210.5,896.5 1216.8,894.6 1221.8,889 1226.8,892.1 1227.4,906.5 1223,911.5 1216.1,912.8 1213,917.8 1211.8,926.5 1209.2,930.2 1204.2,930.9 1200.5,934 1206.8,942.1 1203,949 1198,955.2 1193,955.2 1186.8,951.5 1181.8,946.5 1179.2,941.5 1179.2,935.2 1176.8,931.5 1169.2,931.5 1168,926.5 1170.5,924.6 1176.8,923.4 1181.8,916.5 1185.5,909 1186.8,901.5"/>
</g>
<g fill="#c43b3c">
<polygon points="1217.4,1009.6 1221.8,1004 1225.5,999 1231.1,1001.5 1233,1010.2"/>
</g>
<g fill="#c43b3c">
<polygon points="1213,869 1219.2,869 1216.1,870.9"/>
</g>
<g fill="#f8bfa4">
<polygon points="1108,980.2 1124.2,979.6 1126.8,976.5 1126.1,969 1124.9,961.5 1128.6,957.8 1135.5,952.1 1143,951.5 1148,955.2 1151.1,960.2 1151.8,969 1154.9,977.8 1153,984 1150.5,990.2 1147.4,995.2 1151.8,997.8 1156.8,999 1160.5,1004 1163,1012.8 1108,1012.8"/>
</g>
<g fill="#e48066">
<polygon points="1108,999 1111.8,1004 1109.2,1009 1108,1009"/>
</g>
<g fill="#e48066">
<polygon points="990,803 991.9,798 993.8,794.9 997.5,798.6 1000,802.4 998.1,806.1 993.8,808"/>
</g>
<g fill="#e48066">
<polygon points="1108,739.9 1096.2,740.2 1091.2,743 1089.4,748 1088.8,753 1085,758 1082.5,761.8 1083.8,768 1085,778 1088.1,784.2 1081.2,788.6 1076.2,794.2 1072.5,799.2 1069.4,804.2 1070.6,813 1072.5,819.2 1077.5,825.5 1078.8,833 1080,839.2 1083.8,844.9 1080,850.5 1078.1,854.2 1077.5,869 1108,869"/>
</g>
<g fill="#e48066">
<polygon points="1108,703 1276,703 1276,869 1108,869"/>
</g>
<g fill="#c43b3c">
<polygon points="1108,703 1233,703 1233,768 1220.5,763 1219.2,756.8 1216.8,754.2 1195.5,754 1194.2,750.5 1195.5,746.8 1199.9,740.5 1200.5,731.1 1204.9,724.2 1205.8,716.8 1201.8,710.5 1196.8,706.1 1190.5,706.1 1185.5,711.8 1181.8,718 1181.1,725.5 1180.5,733.6 1175.5,741.8 1180.5,749.2 1179.2,753 1155.5,754.9 1136.8,755.5 1133,750.5 1129.2,744.2 1124.2,740.2 1108,740.2"/>
</g>
<g fill="#c43b3c">
<polygon points="1180.5,754.9 1185.5,754 1191.8,754 1194.9,758 1194.9,765.5 1191.8,769.2 1185.5,771.1 1179.2,769.9 1174.2,766.8 1176.8,763 1179.2,758.6"/>
</g>
<g fill="#c43b3c">
<polygon points="1211.8,866.1 1216.8,864.2 1224.2,865.5 1225.5,869 1214.2,869"/>
</g>
<g fill="#f8bfa4">
<polygon points="1116.8,801.8 1121.8,795.5 1126.8,790.5 1138,789.9 1144.2,794.2 1147.8,801.8 1146.1,809.2 1140.5,811.8 1128,814 1121.8,810.5 1118,805.5"/>
</g>
<g fill="#e48066">
<polygon points="796.5,302.5 799,301.2 799.5,311.2 797.5,312"/>
</g>
<g fill="#e48066">
<polygon points="817.8,343 820,344.5 818,346.5"/>
</g>
<g fill="#e48066">
<polygon points="772,417.5 775.8,415.8 780,417.5 779.5,419.5 772,419.5"/>
</g>
<g fill="#e48066">
<polygon points="772,505 775.8,501.2 783.2,501.2 788.2,506.2 790,512.5 785.8,518.8 778.2,522.5 772,522"/>
</g>
<g fill="#67001f">
<polygon points="1121,246.2 1126.8,238.8 1133,236.2 1141.8,235 1146.8,228.8 1150.5,228 1153,233.8 1151.8,241.2 1145.5,247.5 1133,248.8 1124.2,252"/>
</g>
<g fill="#e48066">
<polygon points="1170,372.5 1175.5,365 1183,360 1191.8,359.5 1200.5,365 1205,371.2 1203,380 1193,383.8 1180.5,386.2 1173,383.8 1170.5,377.5"/>
</g>
<g fill="#e48066">
<polygon points="1178,396.2 1179.5,393.2 1181,396.2 1179.5,399.2"/>
</g>
<g fill="#e48066">
<polygon points="950,575 953.8,566.2 958.8,565 963.8,568.8 967.5,578.8 962.5,585 956.2,590 952,583.8"/>
</g>
<g fill="#e48066">
<polygon points="1100,626.2 1105,618.8 1111.2,615.8 1117.5,618.8 1123.8,622.5 1135,623.8 1133.8,632.5 1131.2,642.5 1123.8,647.5 1117.5,641.2 1108.8,638.8 1102.5,632.5"/>
</g>
<g fill="#e48066">
<polygon points="1093.8,660 1097.5,656.2 1107.5,655.8 1112,661.2 1111.2,668.8 1106.2,672.5 1101.2,672.5 1095,681.2 1090,687.5 1088,685 1092.5,677.5 1093,667.5"/>
</g>
</g>
<g fill="none" stroke="#808080" stroke-width="1.4" stroke-linejoin="round">
<polyline points="309.5,102 309.5,130 310.5,131.2 307.5,209.5"/>
<polyline points="21.2,243 25,238.8 30,240.5 36.2,241.2 43.8,237 51.2,236.2 53.8,237.5 60,236.2 62,243.8 61.2,250 65,253.2 68,250.8 73,250 74.5,245.5 80,243.8 80.5,230.5 110,231.2 110,247 115,247.5 115,267 120,268 120.5,272 131.2,272.5"/>
<polyline points="130,361.2 195,363.8 270,366.2 356,369.5"/>
<polyline points="591,101 591,115"/>
<polyline points="552.2,200 552.2,215.5"/>
<polyline points="399.8,215.5 399,250 398,293.8 389.8,294.5 389,305.5 380.2,306.2 379,325 378,347.5 376.5,369.5"/>
<polyline points="356,369.5 376.5,369.5 438.5,370.8 438.5,433"/>
<polyline points="394.8,433 394.8,397.5 438.5,398"/>
<polyline points="467.2,217.5 468.5,225 474.8,231.2 481,236.2 487.2,238.8 493.5,238.8 498.5,245 502.2,255 499.8,265 497.2,275 494.8,285 492.2,295 493,303.8 496,312.5 499,325 500.5,350 501,375 500.5,433"/>
<polyline points="497.2,315 503.5,330 506,340 516,342.5 522.2,336.2 526,337.5 527.2,347.5 531,348.8 541,346.2 553.5,350 556,346.2 559.8,347.5 563.5,352.5 572.2,351.2 576,348.8 581,350 589.8,346.2 599.8,345 606,347.5 613.5,340 616,325 622.2,322.5 628.5,325 628,332.5 636,345 646,355 649.8,366.2 653.5,367.5 692,368"/>
<polyline points="571,217.5 573.5,230 581,242.5 591,257.5 599.8,275 607.2,290 611,300 614.8,313.8 622.2,316.2 623.5,322.5"/>
<polyline points="652.2,368 649.8,380 654.8,390 656,400 652.2,412.5 647.2,418.8 646,433"/>
<polyline points="711.5,101 711.5,217.5"/>
<polyline points="807,103.5 895.8,103.8"/>
<polyline points="1002,101 1001.5,137.5 1002.5,216"/>
<polyline points="1002,127.5 1028,126.8"/>
<polyline points="968.2,137 1001.2,136.5"/>
<polyline points="762.5,219.5 763.2,275 762.5,349.5 745.2,350 745.2,421.2"/>
<polyline points="692,368 745.2,367.5"/>
<polyline points="972,218 973.2,276.2 972,277.5 972,313"/>
<polyline points="885.2,313.8 990,313 991,418 885.2,419.5 885.2,313.8"/>
<polyline points="745.2,420.8 757,420.5 885.2,419.5"/>
<polyline points="990,329.5 1028,328"/>
<polyline points="954.5,418.8 955,433"/>
<polyline points="745.2,420.8 753.2,418.8 754.5,413.8 759,411.2 759.5,418.8 755.8,420 756.5,425 752,426.2 752,433"/>
<polyline points="733.2,433 735.8,430 742,430.5 745.2,425"/>
<polyline points="1008,128 1111.8,125"/>
<polyline points="1112.5,101 1113,132.5 1117.2,133.8 1118,168.8 1119.2,203.8 1117.5,205 1117.5,212.5"/>
<polyline points="1118,168.8 1202.5,166.2"/>
<polyline points="1212.5,130.5 1201.8,131.2 1203,166.2 1204.2,210.5"/>
<polyline points="1201.8,131.2 1212.5,130.5 1299.2,127 1325,126.2"/>
<polyline points="1211,101 1212.5,130.5"/>
<polyline points="1298.5,101 1300,127"/>
<polyline points="1321,127.5 1323.5,197.5"/>
<polyline points="1205.5,210 1325,206.2"/>
<polyline points="1208.8,272 1315.5,268.8 1325,268"/>
<polyline points="1315.5,268.8 1318.8,337.5"/>
<polyline points="1210.5,342 1319.2,338 1325,337.5"/>
<polyline points="1321,338.8 1323.5,408.8"/>
<polyline points="1311,411.2 1311.8,433"/>
<polyline points="1112.5,215.5 1114.2,272.5 1112.5,273.8 1114.2,326.2"/>
<polyline points="1114.2,264.2 1205,262"/>
<polyline points="1008,329.5 1096,328 1114.2,327 1206.8,324.2"/>
<polyline points="1096,328 1096.8,343.8 1094.8,345.5 1096,415 1094.8,416.2 1095.5,433"/>
<polyline points="20,509.8 112.5,514.2 114.5,508 118.8,506.8"/>
<polyline points="20,703.5 111.2,708 218.8,712.5"/>
<polyline points="123.8,474.2 146.2,475 147.5,478 199.5,479.2 200,471.2 296.2,473.5 297,448.5 356,448"/>
<polyline points="122.5,534.2 220,537.5 356,542.2"/>
<polyline points="356,578 347.5,581.8 337.5,589.2 332.5,596.8 323.8,604.2 318.8,605.5 312.5,600.5 305,598.8 296.2,601.8 287.5,602.5 280,606.8 272.5,613 267,619.2 266.2,625.5 260,630.5 252.5,634.2 240,639.2 222,646.8 220,679.2 218.8,712.5"/>
<polyline points="220,679.2 295,681 356,683"/>
<polyline points="256.2,748.5 335.5,750.5 337.5,758 356,758"/>
<polyline points="256.2,748.5 261.2,754.2 262.5,758 266.2,759.2 270,766"/>
<polyline points="438.5,431.8 425,432.2"/>
<polyline points="394.5,432.2 376,431.8"/>
<polyline points="375.5,431.5 375.5,449.2 356,448.5"/>
<polyline points="424.8,431.5 423.5,544.2"/>
<polyline points="424.8,433.5 501,434 531,433.5 563.5,435.5 576,450.5 583.5,458 588.5,473 596,480.5 609.8,481.8"/>
<polyline points="531,433.5 533.5,448 541,463 551,474.2 558.5,483 568.5,491.8 568.5,500.5 561,510.5 558.5,520.5 562.2,533 564.8,543"/>
<polyline points="356,542.2 423.5,544.2 531,546.8 536,544.2 541,548 546,549.2 553.5,546.8 563.5,543 576,544.8 588.5,548 594.8,544.2 603.5,534.2 611,525.5 618.5,515.5 624.8,508 631,499.2 626,493 618.5,488 611,481.8 616,474.2 617.2,463 631,458 643.5,451.8 646,443 647.2,433"/>
<polyline points="625.5,507.5 692,506.8"/>
<polyline points="646,449.2 656,451.8 668.5,461.8 681,468 692,470.5"/>
<polyline points="372.2,544.2 368,552.5 374,557.5 379.8,563 373.5,565.5 363.5,569.2 356,576"/>
<polyline points="361,571 359.8,658 358,766"/>
<polyline points="379.8,563 382.2,575.5 391,583 394.8,592.5 428.5,593 431,595.5 439.8,608 446,614.2 453.5,619.2 459.8,618 466,621.8 473.5,618 481,610.5 491,609.2 502.2,618 504.8,608"/>
<polyline points="531,546.8 529.8,555.5 519.8,558 518.5,573 516,585.5 508.5,589.2 507.2,598 504.8,608 566,609.2"/>
<polyline points="504.8,608 502.2,619.2 511,623 518.5,633 528.5,636.8 538.5,638 543.5,640.5 542.2,648 534.8,654.2 529.8,663 531,673 526,680.5 528.5,690.5 536,698 541,710.5 543.5,720.5 551,728 556,735.5"/>
<polyline points="576,544.8 571,555.5 568.5,565.5 569.8,578 568.5,593 564.8,600.5 568.5,605.5 566,613 571,620.5 578.5,625.5 579.8,633 591,633 599.8,639.2 606,648 609.8,660.5 606,670.5 602.2,682.5 692,683"/>
<polyline points="602.2,682.5 607.2,684.2 609.8,693 614.8,700.5 611,710.5 609.8,720.5 602.2,725.5 596,730.5 586,730.5 583.5,736.8 437.2,735 436.5,766"/>
<polyline points="593.5,731.8 598.5,739.2 606,745.5 613.5,755.5 621,766"/>
<polyline points="692.5,432 692.5,595.5"/>
<polyline points="692,436.8 728.2,437.5 729.5,441.8 733.2,441.8 734.5,436.8 745.8,435.5 745.8,508"/>
<polyline points="745.8,462.5 769.5,461.8 772,458 774.5,458 774.5,462.5 786.5,461.8 786.5,451.8 795.8,451 796.5,440 802,437.5 815.8,440 814.5,455.5 792,456.8 790.8,461 795.8,461.8 795,466.8 774.5,468 772,473 774.5,479.2 769.5,486.8 777,489.2 772,494.2 768.2,495.5 767,490 759.5,488.5 752,485.5 748.2,493 739.5,493 736.5,495 744.5,497.5"/>
<polyline points="773.2,472.5 955,471.2"/>
<polyline points="745.8,507.5 807,508 955,506.2 1028,505"/>
<polyline points="955,432 955.8,506.8 954.5,508 955.8,646.8"/>
<polyline points="807,508 807,595.5"/>
<polyline points="692,595.5 702,595.5 748.2,596 807,595.5 903.2,595.5 903.2,647.2 955.8,646.8"/>
<polyline points="903.2,647.2 904,717.5 904.5,766"/>
<polyline points="763.2,718 904,717.5 989.5,716.8 1028,715"/>
<polyline points="990.8,716.8 992,766"/>
<polyline points="745.8,507.5 743.2,510.5 740.8,520.5 734,526 734,535.5 729.5,539.2 727,550.5 722,563 717,573 712,580.5 707,588 702.5,594.2 701.5,682.5"/>
<polyline points="748.2,596 749.5,647.5 743.2,648.5 743.2,661.8 763.2,662.5 763.2,766"/>
<polyline points="692,682.5 715.8,683 716.5,692.5 762,692.5"/>
<polyline points="1094.8,432 1097.2,502.5"/>
<polyline points="1008,505.5 1041.8,505 1097.2,502.5 1213,498.8"/>
<polyline points="1041.8,505 1043.8,593 1042.5,594.2 1043.8,680.5 1043,683 1043.5,715 1008,716"/>
<polyline points="1043.8,611.2 1216.8,605"/>
<polyline points="1043.8,696.8 1220,691.8"/>
<polyline points="1068,766 1221.8,762"/>
<polyline points="1311.8,432 1313.5,495.5"/>
<polyline points="1215.5,499.2 1316.8,496 1325,495.5"/>
<polyline points="1318,496.8 1320.5,583"/>
<polyline points="1219.2,587.5 1306.8,584.2 1325,583"/>
<polyline points="1306.8,584.2 1309.2,671"/>
<polyline points="1222.5,675 1295.5,672.5 1325,670.5"/>
<polyline points="1296.2,672.5 1299.2,760"/>
<polyline points="1225,763 1325,759.2"/>
<polyline points="1303.5,760.5 1304.2,766"/>
<polyline points="111.2,778 195,781.5 283.8,784.8 285.5,777.2 281.2,769 278.8,765"/>
<polyline points="283.8,784.8 285,791 292.5,793.5 293.8,811 302.5,814.8 310,819.8 316.2,827.2 315,838.5 307.5,846 305,853.5 298.8,859.8 296.2,862.2 292.5,868.5 285,873.5 278.8,877.2 277.5,883.5 280,888.5"/>
<polyline points="108.8,833 142.5,834 143.8,831.5 232.5,834.8 240,848.5 250,847.2 256.2,844 260,846 267.5,844.8 276.2,846 285,853.5 295,860.5"/>
<polyline points="316.2,827.2 317.5,834.8 325,838.5 332.5,832.2 332.5,824.8 341.2,824.8 345,814.8 353.8,807.2 350,798.5 345,788.5 356,788.5"/>
<polyline points="341.2,824.8 347.5,833.5 350,846 356,853.5"/>
<polyline points="105,911 125,884 245,888 280,888.5 356,891"/>
<polyline points="280,888.5 272.5,896 268.8,906 266.2,918.5 262.5,926 255,933.5 251.2,939.8 240,943.5 236.2,951 232.5,963.5 222.5,972.2 221.2,986 215,998.5 211.2,1007.2 207.5,1012.2"/>
<polyline points="356,853.5 360,863.3 357,867 356.2,890.8 355,935 353,1018.5"/>
<polyline points="341.2,765 345,788.5"/>
<polyline points="356,788 435.5,789.8"/>
<polyline points="436,765 434.8,826"/>
<polyline points="412.2,832.2 417.2,829.8 421,828.5 428.5,829.8 434.8,826 439.8,825.5 446,828.5 454.8,828 461,834.8 468.5,838.5 476,843.5 482.8,847.2 482.2,881 479.8,888.5 478.5,942.2 411.5,942.2 413,886 411,883.5 412.2,832.2"/>
<polyline points="356,935.5 411.5,936"/>
<polyline points="482.8,854 499.8,854.8 500.5,871 503.5,872.2 587.2,873.5 679.8,873.5"/>
<polyline points="587.2,873.5 586.5,952.2 633.5,952.2"/>
<polyline points="478.5,942.2 586.5,943.5"/>
<polyline points="483.5,942.2 483,976 496,983.5 506,1006 514,1021.5"/>
<polyline points="623.5,766 628.5,771 638.5,781 646,793.5 652.2,808.5 659.8,823.5 668.5,832.2 678.5,841 683.5,851 684.8,861 679.8,873.5 676,888.5 674.8,906 681,906 692,898.5"/>
<polyline points="674.8,907.2 633.5,952.2 638.5,966 634.8,976 636,991 633.5,1003.5 629.8,1016 636,1022.2"/>
<polyline points="627.2,769.2 692,770.5"/>
<polyline points="591,1026 594.8,1039.8"/>
<polyline points="356,1022.2 359.8,1024.8 357.2,1031 356,1038.5"/>
<polyline points="692,770.5 763.2,771 763.2,765"/>
<polyline points="745.8,771 746.5,841"/>
<polyline points="692,841 702,836 708.2,843.5 714.5,833.5 722,828.5 724.5,821 729.5,822.2 732,831 738.2,834.8 745.8,841 750.8,846.5 810.8,843.5 857,860.5 904.5,876"/>
<polyline points="857,860.5 844.5,871 837,886 828.2,901 819.5,913.5 812,921 803.2,926 802,936 793.2,943.5 777,945.5 764.5,946 754.5,952.2 747,958.5 737,963.5 729,966"/>
<polyline points="904.5,765 904.5,793.5 905,894 1009.5,893 1028,892.2"/>
<polyline points="904.5,793.5 912,793 919.5,797.2 932,796.5 942,799 974.5,798.5 974.5,787.2 992,786.5 992,768 1028,767.2"/>
<polyline points="1008.2,768 1009.5,893"/>
<polyline points="692,897.2 704.5,892.2 714.5,897.2 723.2,901 720.8,908.5 725.8,918.5 725.8,932.2 728.2,941 728.2,966 729,1023.5"/>
<polyline points="717,1027.2 720,1041 717,1061 717,1078.5 707,1081 699.5,1086 694.5,1091 695.8,1099"/>
<polyline points="914.5,1026 915,1099"/>
<polyline points="992,767.5 1008,767.2 1068,766.2"/>
<polyline points="1008.5,766 1009.2,892.2"/>
<polyline points="1008,893 1063,892.2 1115.5,890.2 1226.8,887.8"/>
<polyline points="1113,766 1115,853.5 1114.2,854.8 1115.5,890.2"/>
<polyline points="1063,892.2 1063.5,944.8 1062.5,946 1063.5,1019.8"/>
<polyline points="1304.2,765 1306.8,847.2 1309.2,848.5 1310.5,866 1313,936"/>
<polyline points="1229.2,868.5 1310.5,866 1325,865.5"/>
<polyline points="1231.8,938.5 1308,936.8 1325,936"/>
<polyline points="1308,936.8 1311.8,1013.5"/>
<polyline points="1234.2,1018.5 1236,1099"/>
<polyline points="360.5,1022 359,1030 357,1040 340,1090 326,1126 326,1136"/>
<polyline points="592.5,1022 595,1040 600,1136"/>
<polyline points="696,1099 694,1110 700,1125 698,1136"/>
<polyline points="915,1099 916,1136"/>
<polyline points="1237,1099 1238,1116"/>
<polyline points="1216,1118.5 1216.5,1136"/>
<polyline points="1304.5,1116 1305,1136"/>
</g>
<g fill="none" stroke="#000" stroke-width="3.3" stroke-linejoin="miter">
<polyline points="135.5,205 200,207.4 300,210.7 400,213.4 500,215.4 600,216.7 700,217.4 800,217.4 900,216.8 1000,215.6 1100,213.7 1205,211 1232.6,1016.6 1150,1020.1 1050,1022.3 950,1023.8 850,1024.7 757,1025 650,1024.6 550,1023.6 450,1022 350,1019.7 250,1016.8 150,1013.3 99,1011.2 135.5,205"/>
<polyline points="20,199.3 60,201.5 100,203.7 135.5,205"/>
<polyline points="898,101 898,216.9"/>
<polyline points="1211.9,412.2 1325,408.5"/>
<polyline points="1232.6,1016.6 1325,1014.5"/>
<polyline points="1077.3,1021.7 1080,1121.5"/>
<polyline points="1072.7,1136 1072.7,1122 1200,1118.6 1325,1114.5"/>
<polyline points="99,1011.2 93.7,1136"/>
<polyline points="20,1007 60,1009.3 99,1011.2"/>
</g>
</g>
<rect x="20" y="101" width="1305" height="1034" fill="none" stroke="#000" stroke-width="2.2"/>
<rect x="378.5" y="112.5" width="589.2" height="94.9" fill="#fff" stroke="#000" stroke-width="3"/>
<g font-size="23">
<text x="386.3" y="138.5">statewide departure from 1901-2000 avg: +2.4°F</text>
<text x="386.3" y="165.3">statewide departure from 1991-2020 avg: +1.6°F</text>
<text x="386.3" y="193">statewide rank: 7th warmest/123rd coldest</text>
</g>
<rect x="31.75" y="1041.75" width="626.55" height="83.5" fill="#fff" stroke="#000" stroke-width="3"/>
<g font-size="21.6">
<text x="38.5" y="1065.6">source: PRISM Climate Group, Oregon State University</text>
<text x="38.5" y="1088.8">map: Colorado Climate Center/Colorado State University</text>
<text x="38.5" y="1112">map generated 05 March 2025</text>
</g>
<g font-size="33.47" text-anchor="middle">
<text x="672" y="45">temperature rank (preliminary PRISM data)</text>
<text x="672" y="84">8 months ending March 2000 (Aug-Mar)</text>
</g>
<rect x="123" y="1147.75" width="157.5" height="39.95" fill="#327cb7"/>
<rect x="280" y="1147.75" width="157.5" height="39.95" fill="#6bacd1"/>
<rect x="437" y="1147.75" width="157.5" height="39.95" fill="#b1d5e7"/>
<rect x="594" y="1147.75" width="157.5" height="39.95" fill="#f7f6f6"/>
<rect x="751" y="1147.75" width="157.5" height="39.95" fill="#f8bfa4"/>
<rect x="908" y="1147.75" width="157.5" height="39.95" fill="#e48066"/>
<rect x="1065" y="1147.75" width="157.5" height="39.95" fill="#c43b3c"/>
<polygon points="123,1147.75 68.5,1167.72 123,1187.7" fill="#053061"/>
<polygon points="1222,1147.75 1276.5,1167.72 1222,1187.7" fill="#67001f"/>
<polygon points="123,1147.75 1222,1147.75 1276.5,1167.72 1222,1187.7 123,1187.7 68.5,1167.72" fill="none" stroke="#000" stroke-width="2.2" stroke-linejoin="round"/>
<g stroke="#000" stroke-width="2.2">
<line x1="123" y1="1187.7" x2="123" y2="1198.2"/>
<line x1="280" y1="1187.7" x2="280" y2="1198.2"/>
<line x1="437" y1="1187.7" x2="437" y2="1198.2"/>
<line x1="594" y1="1187.7" x2="594" y2="1198.2"/>
<line x1="751" y1="1187.7" x2="751" y2="1198.2"/>
<line x1="908" y1="1187.7" x2="908" y2="1198.2"/>
<line x1="1065" y1="1187.7" x2="1065" y2="1198.2"/>
<line x1="1222" y1="1187.7" x2="1222" y2="1198.2"/>
</g>
<g font-size="27.9" text-anchor="middle">
<text x="123" y="1230">record</text>
<text x="123" y="1261.5">coldest</text>
<text x="280" y="1230">10th</text>
<text x="280" y="1261.5">coldest</text>
<text x="437" y="1230">20th</text>
<text x="437" y="1261.5">coldest</text>
<text x="594" y="1230">35th</text>
<text x="594" y="1261.5">coldest</text>
<text x="751" y="1230">35th</text>
<text x="751" y="1261.5">warmest</text>
<text x="908" y="1230">20th</text>
<text x="908" y="1261.5">warmest</text>
<text x="1065" y="1230">10th</text>
<text x="1065" y="1261.5">warmest</text>
<text x="1222" y="1230">record</text>
<text x="1222" y="1261.5">warmest</text>
</g>
<text x="672" y="1304" font-size="33.47" text-anchor="middle">temperature rank out of 129 years (1896-2024)</text>
</svg></body></html>
